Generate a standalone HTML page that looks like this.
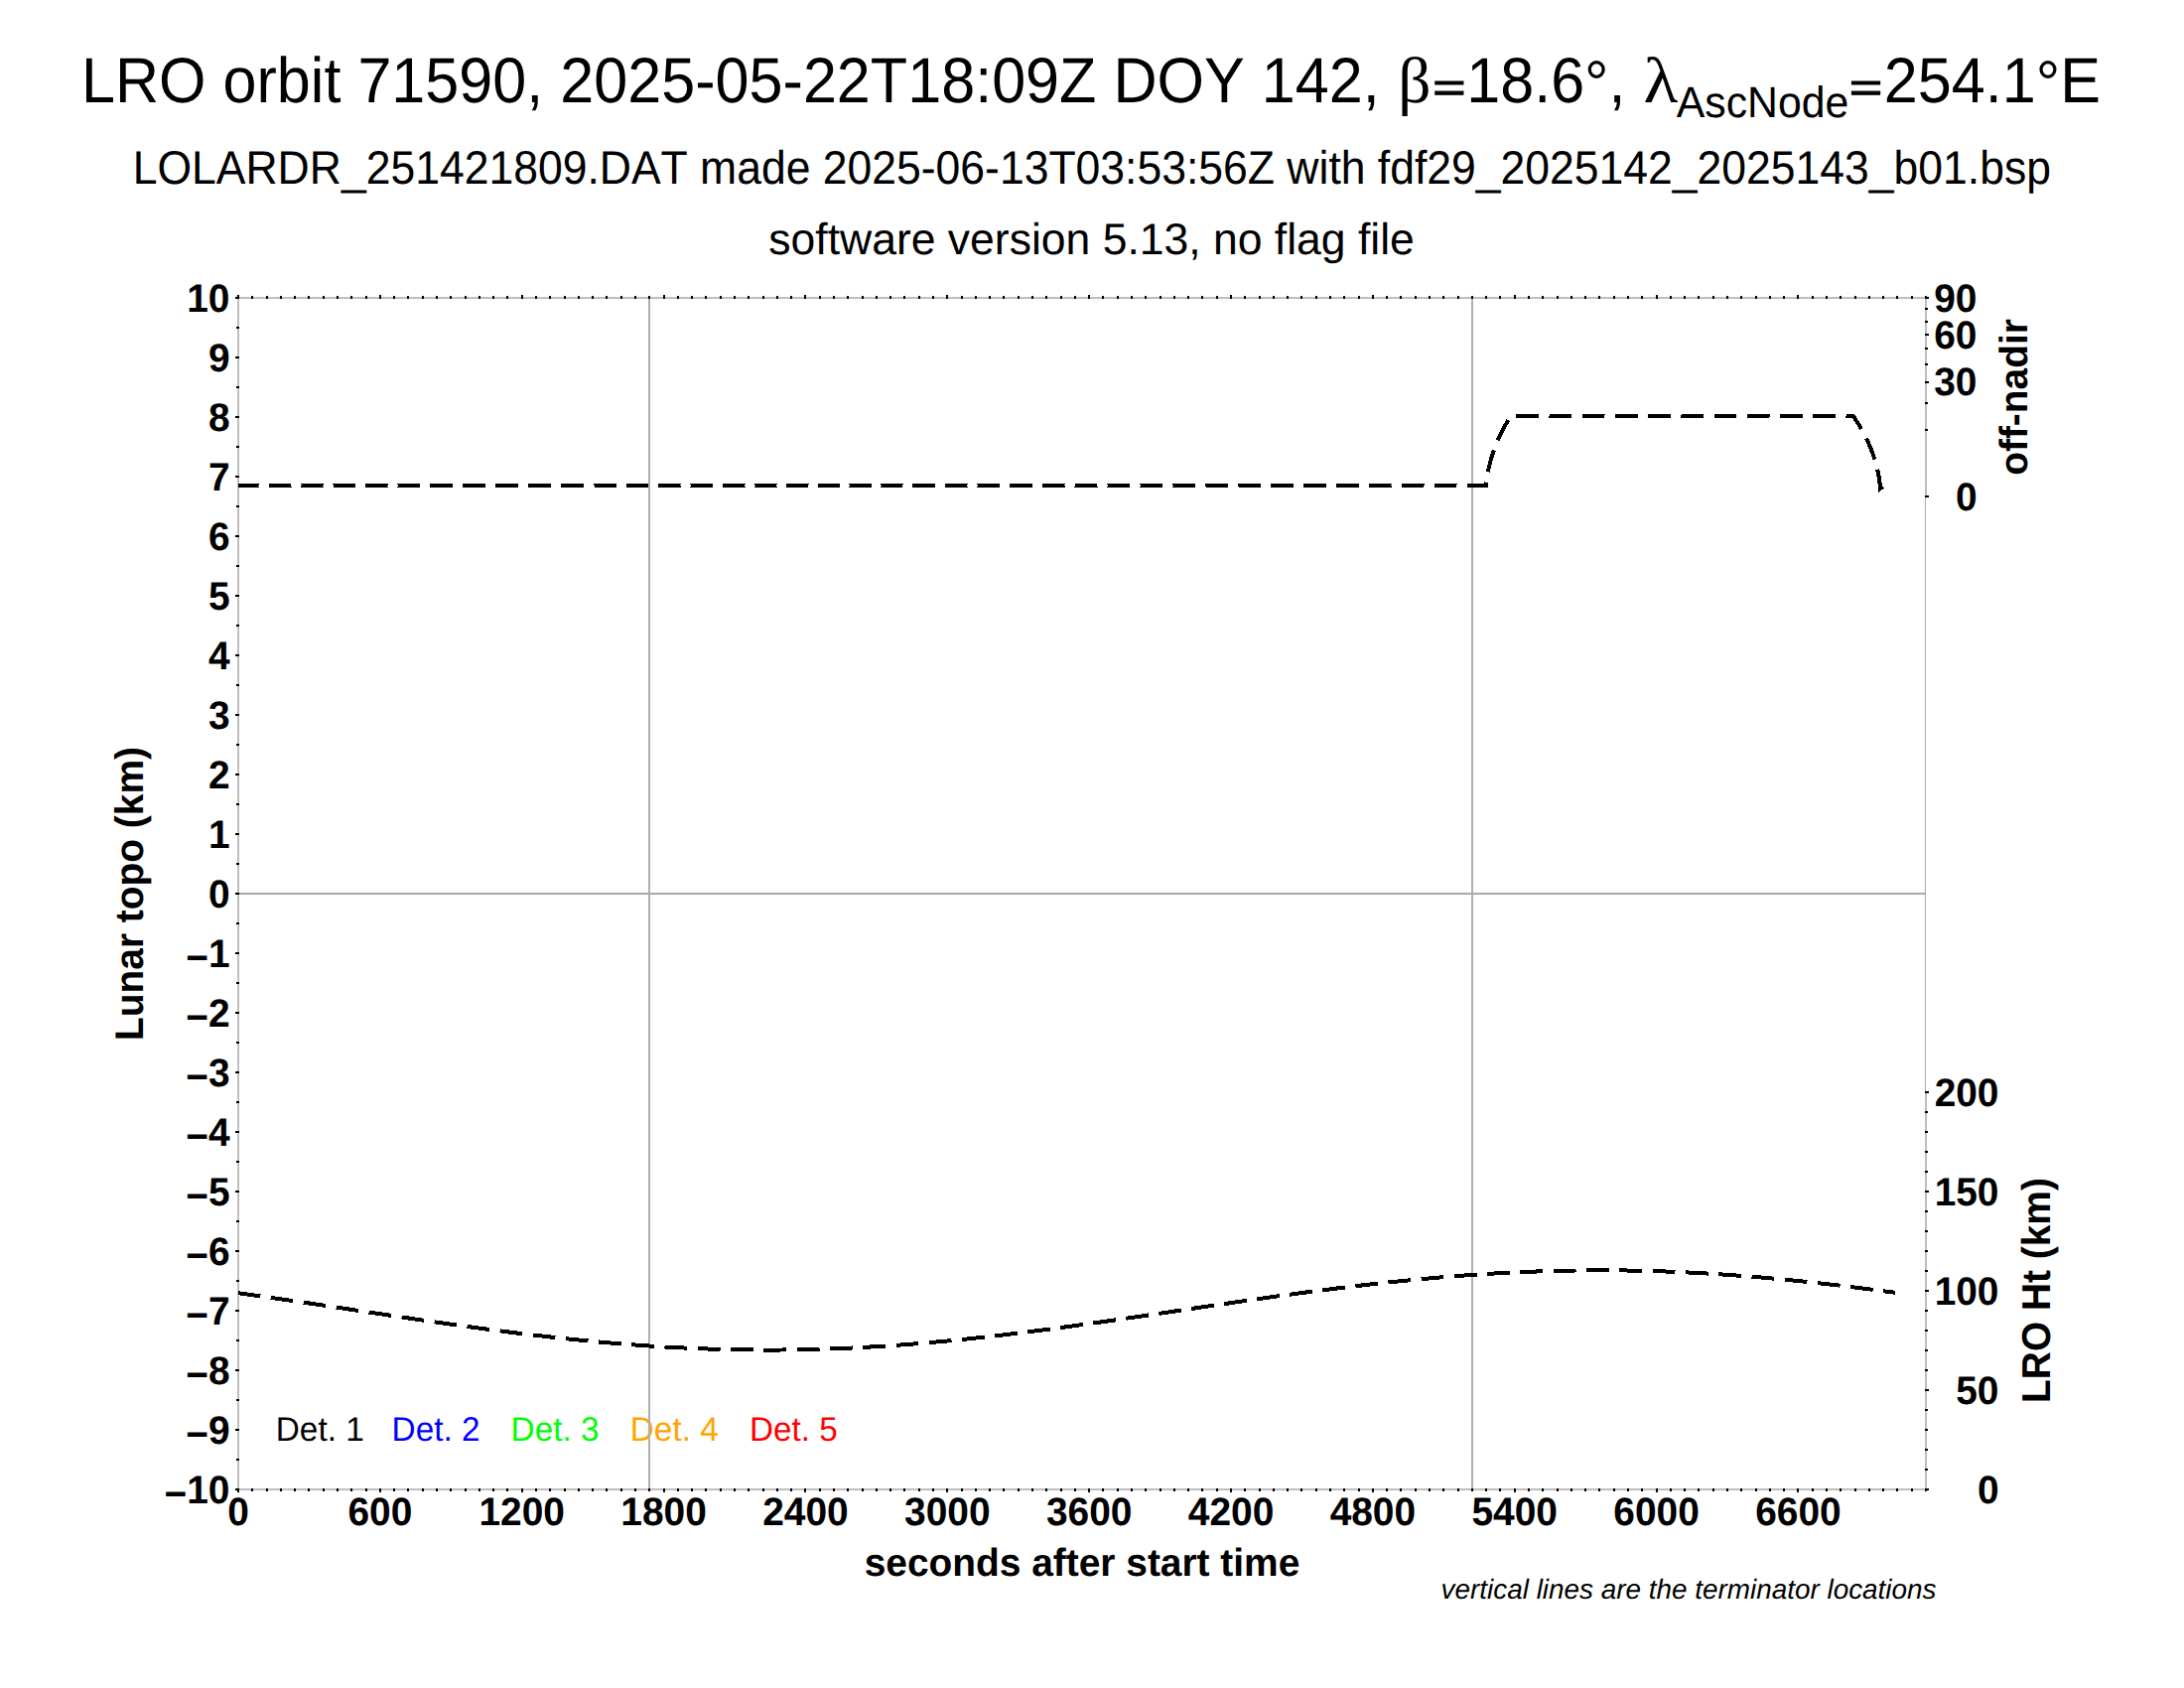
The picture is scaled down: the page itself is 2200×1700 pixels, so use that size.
<!DOCTYPE html>
<html lang="en"><head><meta charset="utf-8"><title>LRO orbit 71590</title>
<style>
html,body{margin:0;padding:0;background:#fff}
body{width:2200px;height:1700px;overflow:hidden}
svg{display:block}
text{font-family:"Liberation Sans",sans-serif;font-kerning:none;font-variant-ligatures:none;fill:#000;text-rendering:geometricPrecision}
.t1{font-size:61.11px}
.t2{font-size:44.51px}
.sub{font-size:42.78px}
.sym{font-family:"Liberation Serif",serif}
.an{font-size:38.89px;font-weight:bold}
.det{font-size:33.33px}
.note{font-size:27.89px;font-style:italic}
.g{shape-rendering:crispEdges}
</style></head><body>
<svg width="2200" height="1700" viewBox="0 0 2200 1700">
<rect width="2200" height="1700" fill="#fff"/>
<text class="t1" transform="translate(81.9 102.9) scale(1 1.055)">LRO orbit 71590, 2025-05-22T18:09Z DOY 142, </text>
<text class="sym" style="font-size:65.4px" transform="translate(1408.3 102.9)">β</text>
<text class="t1" transform="translate(1443.2 102.16) scale(0.93 0.667)" style="stroke:#000;stroke-width:1.8px">=</text>
<text class="t1" transform="translate(1477.2 102.9) scale(1 1.055)">18.6</text>
<text class="t1" transform="translate(1596.12 106.0) scale(1 1.055)">°</text>
<text class="t1" transform="translate(1620.56 102.9) scale(1 1.055)">, </text>
<text class="sym" style="font-size:65.4px" transform="translate(1655.6 102.9) scale(1.1 1)">λ</text>
<text class="sub" transform="translate(1688.8 117.5) scale(1 1.03)">AscNode</text>
<text class="t1" transform="translate(1863.1 102.16) scale(0.93 0.667)" style="stroke:#000;stroke-width:1.8px">=</text>
<text class="t1" transform="translate(1897.79 102.9) scale(1 1.055)">254.1</text>
<text class="t1" transform="translate(2050.69 106.0) scale(1 1.055)">°</text>
<text class="t1" transform="translate(2075.13 102.9) scale(1 1.055)">E</text>
<text class="t2" transform="translate(1099.8 185.45) scale(1 1.063)" text-anchor="middle">LOLARDR_251421809.DAT made 2025-06-13T03:53:56Z with fdf29_2025142_2025143_b01.bsp</text>
<text class="t2" transform="translate(1099.6 256) scale(1 1.0)" text-anchor="middle">software version 5.13, no flag file</text>
<text class="det" transform="translate(277.8 1450.9) scale(1 1.03)" style="fill:#000000">Det. 1</text>
<text class="det" transform="translate(394.6 1450.9) scale(1 1.03)" style="fill:#0000ff">Det. 2</text>
<text class="det" transform="translate(514.6 1450.9) scale(1 1.03)" style="fill:#00ff00">Det. 3</text>
<text class="det" transform="translate(634.8 1450.9) scale(1 1.03)" style="fill:#ffa500">Det. 4</text>
<text class="det" transform="translate(754.9 1450.9) scale(1 1.03)" style="fill:#ff0000">Det. 5</text>
<g class="g">
<rect x="653" y="300" width="2" height="1200" fill="#afafaf"/>
<rect x="1482" y="300" width="2" height="1200" fill="#afafaf"/>
<rect x="240" y="899" width="1700" height="2" fill="#a9a9a9"/>
<rect x="239" y="299" width="2" height="1202" fill="#bebebe"/>
<rect x="239" y="299" width="1702" height="2" fill="#bebebe"/>
<rect x="239" y="1499" width="1702" height="2" fill="#bebebe"/>
<rect x="1939" y="299" width="2" height="202" fill="#bebebe"/>
<rect x="1939" y="1099" width="2" height="402" fill="#bebebe"/>
<rect x="1939" y="500" width="1.3" height="600" fill="#aaaaaa"/>
<rect x="237" y="1499.0" width="4" height="2"/>
<rect x="238" y="1469.0" width="3" height="2"/>
<rect x="237" y="1439.0" width="4" height="2"/>
<rect x="238" y="1409.0" width="3" height="2"/>
<rect x="237" y="1379.0" width="4" height="2"/>
<rect x="238" y="1349.0" width="3" height="2"/>
<rect x="237" y="1319.0" width="4" height="2"/>
<rect x="238" y="1289.0" width="3" height="2"/>
<rect x="237" y="1259.0" width="4" height="2"/>
<rect x="238" y="1229.0" width="3" height="2"/>
<rect x="237" y="1199.0" width="4" height="2"/>
<rect x="238" y="1169.0" width="3" height="2"/>
<rect x="237" y="1139.0" width="4" height="2"/>
<rect x="238" y="1109.0" width="3" height="2"/>
<rect x="237" y="1079.0" width="4" height="2"/>
<rect x="238" y="1049.0" width="3" height="2"/>
<rect x="237" y="1019.0" width="4" height="2"/>
<rect x="238" y="989.0" width="3" height="2"/>
<rect x="237" y="959.0" width="4" height="2"/>
<rect x="238" y="929.0" width="3" height="2"/>
<rect x="237" y="899.0" width="4" height="2"/>
<rect x="238" y="869.0" width="3" height="2"/>
<rect x="237" y="839.0" width="4" height="2"/>
<rect x="238" y="809.0" width="3" height="2"/>
<rect x="237" y="779.0" width="4" height="2"/>
<rect x="238" y="749.0" width="3" height="2"/>
<rect x="237" y="719.0" width="4" height="2"/>
<rect x="238" y="689.0" width="3" height="2"/>
<rect x="237" y="659.0" width="4" height="2"/>
<rect x="238" y="629.0" width="3" height="2"/>
<rect x="237" y="599.0" width="4" height="2"/>
<rect x="238" y="569.0" width="3" height="2"/>
<rect x="237" y="539.0" width="4" height="2"/>
<rect x="238" y="509.0" width="3" height="2"/>
<rect x="237" y="479.0" width="4" height="2"/>
<rect x="238" y="449.0" width="3" height="2"/>
<rect x="237" y="419.0" width="4" height="2"/>
<rect x="238" y="389.0" width="3" height="2"/>
<rect x="237" y="359.0" width="4" height="2"/>
<rect x="238" y="329.0" width="3" height="2"/>
<rect x="237" y="299.0" width="4" height="2"/>
<rect x="239.00" y="297" width="2" height="4"/>
<rect x="239.00" y="1499" width="2" height="4"/>
<rect x="253.00" y="298" width="2" height="3"/>
<rect x="253.00" y="1499" width="2" height="3"/>
<rect x="268.00" y="298" width="2" height="3"/>
<rect x="268.00" y="1499" width="2" height="3"/>
<rect x="282.00" y="298" width="2" height="3"/>
<rect x="282.00" y="1499" width="2" height="3"/>
<rect x="296.00" y="298" width="2" height="3"/>
<rect x="296.00" y="1499" width="2" height="3"/>
<rect x="310.00" y="298" width="2" height="3"/>
<rect x="310.00" y="1499" width="2" height="3"/>
<rect x="325.00" y="298" width="2" height="3"/>
<rect x="325.00" y="1499" width="2" height="3"/>
<rect x="339.00" y="298" width="2" height="3"/>
<rect x="339.00" y="1499" width="2" height="3"/>
<rect x="353.00" y="298" width="2" height="3"/>
<rect x="353.00" y="1499" width="2" height="3"/>
<rect x="368.00" y="298" width="2" height="3"/>
<rect x="368.00" y="1499" width="2" height="3"/>
<rect x="382.00" y="297" width="2" height="4"/>
<rect x="382.00" y="1499" width="2" height="4"/>
<rect x="396.00" y="298" width="2" height="3"/>
<rect x="396.00" y="1499" width="2" height="3"/>
<rect x="410.00" y="298" width="2" height="3"/>
<rect x="410.00" y="1499" width="2" height="3"/>
<rect x="425.00" y="298" width="2" height="3"/>
<rect x="425.00" y="1499" width="2" height="3"/>
<rect x="439.00" y="298" width="2" height="3"/>
<rect x="439.00" y="1499" width="2" height="3"/>
<rect x="453.00" y="298" width="2" height="3"/>
<rect x="453.00" y="1499" width="2" height="3"/>
<rect x="468.00" y="298" width="2" height="3"/>
<rect x="468.00" y="1499" width="2" height="3"/>
<rect x="482.00" y="298" width="2" height="3"/>
<rect x="482.00" y="1499" width="2" height="3"/>
<rect x="496.00" y="298" width="2" height="3"/>
<rect x="496.00" y="1499" width="2" height="3"/>
<rect x="510.00" y="298" width="2" height="3"/>
<rect x="510.00" y="1499" width="2" height="3"/>
<rect x="525.00" y="297" width="2" height="4"/>
<rect x="525.00" y="1499" width="2" height="4"/>
<rect x="539.00" y="298" width="2" height="3"/>
<rect x="539.00" y="1499" width="2" height="3"/>
<rect x="553.00" y="298" width="2" height="3"/>
<rect x="553.00" y="1499" width="2" height="3"/>
<rect x="568.00" y="298" width="2" height="3"/>
<rect x="568.00" y="1499" width="2" height="3"/>
<rect x="582.00" y="298" width="2" height="3"/>
<rect x="582.00" y="1499" width="2" height="3"/>
<rect x="596.00" y="298" width="2" height="3"/>
<rect x="596.00" y="1499" width="2" height="3"/>
<rect x="610.00" y="298" width="2" height="3"/>
<rect x="610.00" y="1499" width="2" height="3"/>
<rect x="625.00" y="298" width="2" height="3"/>
<rect x="625.00" y="1499" width="2" height="3"/>
<rect x="639.00" y="298" width="2" height="3"/>
<rect x="639.00" y="1499" width="2" height="3"/>
<rect x="653.00" y="298" width="2" height="3"/>
<rect x="653.00" y="1499" width="2" height="3"/>
<rect x="668.00" y="297" width="2" height="4"/>
<rect x="668.00" y="1499" width="2" height="4"/>
<rect x="682.00" y="298" width="2" height="3"/>
<rect x="682.00" y="1499" width="2" height="3"/>
<rect x="696.00" y="298" width="2" height="3"/>
<rect x="696.00" y="1499" width="2" height="3"/>
<rect x="710.00" y="298" width="2" height="3"/>
<rect x="710.00" y="1499" width="2" height="3"/>
<rect x="725.00" y="298" width="2" height="3"/>
<rect x="725.00" y="1499" width="2" height="3"/>
<rect x="739.00" y="298" width="2" height="3"/>
<rect x="739.00" y="1499" width="2" height="3"/>
<rect x="753.00" y="298" width="2" height="3"/>
<rect x="753.00" y="1499" width="2" height="3"/>
<rect x="768.00" y="298" width="2" height="3"/>
<rect x="768.00" y="1499" width="2" height="3"/>
<rect x="782.00" y="298" width="2" height="3"/>
<rect x="782.00" y="1499" width="2" height="3"/>
<rect x="796.00" y="298" width="2" height="3"/>
<rect x="796.00" y="1499" width="2" height="3"/>
<rect x="810.00" y="297" width="2" height="4"/>
<rect x="810.00" y="1499" width="2" height="4"/>
<rect x="825.00" y="298" width="2" height="3"/>
<rect x="825.00" y="1499" width="2" height="3"/>
<rect x="839.00" y="298" width="2" height="3"/>
<rect x="839.00" y="1499" width="2" height="3"/>
<rect x="853.00" y="298" width="2" height="3"/>
<rect x="853.00" y="1499" width="2" height="3"/>
<rect x="868.00" y="298" width="2" height="3"/>
<rect x="868.00" y="1499" width="2" height="3"/>
<rect x="882.00" y="298" width="2" height="3"/>
<rect x="882.00" y="1499" width="2" height="3"/>
<rect x="896.00" y="298" width="2" height="3"/>
<rect x="896.00" y="1499" width="2" height="3"/>
<rect x="910.00" y="298" width="2" height="3"/>
<rect x="910.00" y="1499" width="2" height="3"/>
<rect x="925.00" y="298" width="2" height="3"/>
<rect x="925.00" y="1499" width="2" height="3"/>
<rect x="939.00" y="298" width="2" height="3"/>
<rect x="939.00" y="1499" width="2" height="3"/>
<rect x="953.00" y="297" width="2" height="4"/>
<rect x="953.00" y="1499" width="2" height="4"/>
<rect x="968.00" y="298" width="2" height="3"/>
<rect x="968.00" y="1499" width="2" height="3"/>
<rect x="982.00" y="298" width="2" height="3"/>
<rect x="982.00" y="1499" width="2" height="3"/>
<rect x="996.00" y="298" width="2" height="3"/>
<rect x="996.00" y="1499" width="2" height="3"/>
<rect x="1010.00" y="298" width="2" height="3"/>
<rect x="1010.00" y="1499" width="2" height="3"/>
<rect x="1025.00" y="298" width="2" height="3"/>
<rect x="1025.00" y="1499" width="2" height="3"/>
<rect x="1039.00" y="298" width="2" height="3"/>
<rect x="1039.00" y="1499" width="2" height="3"/>
<rect x="1053.00" y="298" width="2" height="3"/>
<rect x="1053.00" y="1499" width="2" height="3"/>
<rect x="1068.00" y="298" width="2" height="3"/>
<rect x="1068.00" y="1499" width="2" height="3"/>
<rect x="1082.00" y="298" width="2" height="3"/>
<rect x="1082.00" y="1499" width="2" height="3"/>
<rect x="1096.00" y="297" width="2" height="4"/>
<rect x="1096.00" y="1499" width="2" height="4"/>
<rect x="1110.00" y="298" width="2" height="3"/>
<rect x="1110.00" y="1499" width="2" height="3"/>
<rect x="1125.00" y="298" width="2" height="3"/>
<rect x="1125.00" y="1499" width="2" height="3"/>
<rect x="1139.00" y="298" width="2" height="3"/>
<rect x="1139.00" y="1499" width="2" height="3"/>
<rect x="1153.00" y="298" width="2" height="3"/>
<rect x="1153.00" y="1499" width="2" height="3"/>
<rect x="1168.00" y="298" width="2" height="3"/>
<rect x="1168.00" y="1499" width="2" height="3"/>
<rect x="1182.00" y="298" width="2" height="3"/>
<rect x="1182.00" y="1499" width="2" height="3"/>
<rect x="1196.00" y="298" width="2" height="3"/>
<rect x="1196.00" y="1499" width="2" height="3"/>
<rect x="1210.00" y="298" width="2" height="3"/>
<rect x="1210.00" y="1499" width="2" height="3"/>
<rect x="1225.00" y="298" width="2" height="3"/>
<rect x="1225.00" y="1499" width="2" height="3"/>
<rect x="1239.00" y="297" width="2" height="4"/>
<rect x="1239.00" y="1499" width="2" height="4"/>
<rect x="1253.00" y="298" width="2" height="3"/>
<rect x="1253.00" y="1499" width="2" height="3"/>
<rect x="1268.00" y="298" width="2" height="3"/>
<rect x="1268.00" y="1499" width="2" height="3"/>
<rect x="1282.00" y="298" width="2" height="3"/>
<rect x="1282.00" y="1499" width="2" height="3"/>
<rect x="1296.00" y="298" width="2" height="3"/>
<rect x="1296.00" y="1499" width="2" height="3"/>
<rect x="1310.00" y="298" width="2" height="3"/>
<rect x="1310.00" y="1499" width="2" height="3"/>
<rect x="1325.00" y="298" width="2" height="3"/>
<rect x="1325.00" y="1499" width="2" height="3"/>
<rect x="1339.00" y="298" width="2" height="3"/>
<rect x="1339.00" y="1499" width="2" height="3"/>
<rect x="1353.00" y="298" width="2" height="3"/>
<rect x="1353.00" y="1499" width="2" height="3"/>
<rect x="1368.00" y="298" width="2" height="3"/>
<rect x="1368.00" y="1499" width="2" height="3"/>
<rect x="1382.00" y="297" width="2" height="4"/>
<rect x="1382.00" y="1499" width="2" height="4"/>
<rect x="1396.00" y="298" width="2" height="3"/>
<rect x="1396.00" y="1499" width="2" height="3"/>
<rect x="1410.00" y="298" width="2" height="3"/>
<rect x="1410.00" y="1499" width="2" height="3"/>
<rect x="1425.00" y="298" width="2" height="3"/>
<rect x="1425.00" y="1499" width="2" height="3"/>
<rect x="1439.00" y="298" width="2" height="3"/>
<rect x="1439.00" y="1499" width="2" height="3"/>
<rect x="1453.00" y="298" width="2" height="3"/>
<rect x="1453.00" y="1499" width="2" height="3"/>
<rect x="1468.00" y="298" width="2" height="3"/>
<rect x="1468.00" y="1499" width="2" height="3"/>
<rect x="1482.00" y="298" width="2" height="3"/>
<rect x="1482.00" y="1499" width="2" height="3"/>
<rect x="1496.00" y="298" width="2" height="3"/>
<rect x="1496.00" y="1499" width="2" height="3"/>
<rect x="1510.00" y="298" width="2" height="3"/>
<rect x="1510.00" y="1499" width="2" height="3"/>
<rect x="1525.00" y="297" width="2" height="4"/>
<rect x="1525.00" y="1499" width="2" height="4"/>
<rect x="1539.00" y="298" width="2" height="3"/>
<rect x="1539.00" y="1499" width="2" height="3"/>
<rect x="1553.00" y="298" width="2" height="3"/>
<rect x="1553.00" y="1499" width="2" height="3"/>
<rect x="1568.00" y="298" width="2" height="3"/>
<rect x="1568.00" y="1499" width="2" height="3"/>
<rect x="1582.00" y="298" width="2" height="3"/>
<rect x="1582.00" y="1499" width="2" height="3"/>
<rect x="1596.00" y="298" width="2" height="3"/>
<rect x="1596.00" y="1499" width="2" height="3"/>
<rect x="1610.00" y="298" width="2" height="3"/>
<rect x="1610.00" y="1499" width="2" height="3"/>
<rect x="1625.00" y="298" width="2" height="3"/>
<rect x="1625.00" y="1499" width="2" height="3"/>
<rect x="1639.00" y="298" width="2" height="3"/>
<rect x="1639.00" y="1499" width="2" height="3"/>
<rect x="1653.00" y="298" width="2" height="3"/>
<rect x="1653.00" y="1499" width="2" height="3"/>
<rect x="1668.00" y="297" width="2" height="4"/>
<rect x="1668.00" y="1499" width="2" height="4"/>
<rect x="1682.00" y="298" width="2" height="3"/>
<rect x="1682.00" y="1499" width="2" height="3"/>
<rect x="1696.00" y="298" width="2" height="3"/>
<rect x="1696.00" y="1499" width="2" height="3"/>
<rect x="1710.00" y="298" width="2" height="3"/>
<rect x="1710.00" y="1499" width="2" height="3"/>
<rect x="1725.00" y="298" width="2" height="3"/>
<rect x="1725.00" y="1499" width="2" height="3"/>
<rect x="1739.00" y="298" width="2" height="3"/>
<rect x="1739.00" y="1499" width="2" height="3"/>
<rect x="1753.00" y="298" width="2" height="3"/>
<rect x="1753.00" y="1499" width="2" height="3"/>
<rect x="1768.00" y="298" width="2" height="3"/>
<rect x="1768.00" y="1499" width="2" height="3"/>
<rect x="1782.00" y="298" width="2" height="3"/>
<rect x="1782.00" y="1499" width="2" height="3"/>
<rect x="1796.00" y="298" width="2" height="3"/>
<rect x="1796.00" y="1499" width="2" height="3"/>
<rect x="1810.00" y="297" width="2" height="4"/>
<rect x="1810.00" y="1499" width="2" height="4"/>
<rect x="1825.00" y="298" width="2" height="3"/>
<rect x="1825.00" y="1499" width="2" height="3"/>
<rect x="1839.00" y="298" width="2" height="3"/>
<rect x="1839.00" y="1499" width="2" height="3"/>
<rect x="1853.00" y="298" width="2" height="3"/>
<rect x="1853.00" y="1499" width="2" height="3"/>
<rect x="1868.00" y="298" width="2" height="3"/>
<rect x="1868.00" y="1499" width="2" height="3"/>
<rect x="1882.00" y="298" width="2" height="3"/>
<rect x="1882.00" y="1499" width="2" height="3"/>
<rect x="1896.00" y="298" width="2" height="3"/>
<rect x="1896.00" y="1499" width="2" height="3"/>
<rect x="1910.00" y="298" width="2" height="3"/>
<rect x="1910.00" y="1499" width="2" height="3"/>
<rect x="1925.00" y="298" width="2" height="3"/>
<rect x="1925.00" y="1499" width="2" height="3"/>
<rect x="1939.00" y="298" width="2" height="3"/>
<rect x="1939.00" y="1499" width="2" height="3"/>
<rect x="1939" y="499.00" width="4" height="2"/>
<rect x="1939" y="432.00" width="3" height="2"/>
<rect x="1939" y="405.00" width="3" height="2"/>
<rect x="1939" y="384.00" width="4" height="2"/>
<rect x="1939" y="366.00" width="3" height="2"/>
<rect x="1939" y="350.00" width="3" height="2"/>
<rect x="1939" y="336.00" width="4" height="2"/>
<rect x="1939" y="323.00" width="3" height="2"/>
<rect x="1939" y="310.00" width="3" height="2"/>
<rect x="1939" y="299.00" width="4" height="2"/>
<rect x="1939" y="1499.00" width="4" height="2"/>
<rect x="1939" y="1479.00" width="3" height="2"/>
<rect x="1939" y="1459.00" width="3" height="2"/>
<rect x="1939" y="1439.00" width="3" height="2"/>
<rect x="1939" y="1419.00" width="3" height="2"/>
<rect x="1939" y="1399.00" width="4" height="2"/>
<rect x="1939" y="1379.00" width="3" height="2"/>
<rect x="1939" y="1359.00" width="3" height="2"/>
<rect x="1939" y="1339.00" width="3" height="2"/>
<rect x="1939" y="1319.00" width="3" height="2"/>
<rect x="1939" y="1299.00" width="4" height="2"/>
<rect x="1939" y="1279.00" width="3" height="2"/>
<rect x="1939" y="1259.00" width="3" height="2"/>
<rect x="1939" y="1239.00" width="3" height="2"/>
<rect x="1939" y="1219.00" width="3" height="2"/>
<rect x="1939" y="1199.00" width="4" height="2"/>
<rect x="1939" y="1179.00" width="3" height="2"/>
<rect x="1939" y="1159.00" width="3" height="2"/>
<rect x="1939" y="1139.00" width="3" height="2"/>
<rect x="1939" y="1119.00" width="3" height="2"/>
<rect x="1939" y="1099.00" width="4" height="2"/>
</g>
<path class="g" d="M240.00 489.03 L240.50 488.97 L240.99 489.03 L241.49 488.97 L241.99 489.03 L242.48 488.97 L242.98 489.03 L243.48 488.97 L243.97 489.03 L244.47 488.97 L244.97 489.03 L245.47 488.97 L245.96 489.03 L246.46 488.97 L246.96 489.03 L247.45 488.97 L247.95 489.03 L248.45 488.97 L248.94 489.03 L249.44 488.97 L249.94 489.03 L250.43 488.97 L250.93 489.03 L251.43 488.97 L251.92 489.03 L252.42 488.97 L252.92 489.03 L253.41 488.97 L253.91 489.03 L254.41 488.97 L254.90 489.03 L255.40 488.97 L255.90 489.03 L256.40 488.97 L256.89 489.03 L257.39 488.97 L257.89 489.03 L258.38 488.97 L258.88 489.03 L259.38 488.97 L259.87 489.03 L260.37 488.97 L260.87 489.03 L261.36 488.97 L261.86 489.03 L262.36 488.97 L262.85 489.03 L263.35 488.97 L263.85 489.03 L264.34 488.97 L264.84 489.03 L265.34 488.97 L265.83 489.03 L266.33 488.97 L266.83 489.03 L267.33 488.97 L267.82 489.03 L268.32 488.97 L268.82 489.03 L269.31 488.97 L269.81 489.03 L270.31 488.97 L270.80 489.03 L271.30 488.94 L271.80 489.06 L272.30 488.94 L272.80 489.06 L273.30 488.94 L273.80 489.06 L274.30 488.94 L274.80 489.06 L275.30 488.94 L275.80 489.06 L276.30 488.94 L276.80 489.06 L277.30 488.94 L277.80 489.06 L278.30 488.94 L278.80 489.06 L279.30 488.94 L279.79 489.06 L280.29 488.94 L280.79 489.06 L281.29 488.94 L281.79 489.06 L282.29 488.94 L282.79 489.06 L283.29 488.94 L283.79 489.06 L284.29 488.94 L284.79 489.06 L285.29 488.94 L285.79 489.06 L286.29 488.94 L286.79 489.06 L287.29 488.94 L287.79 489.06 L288.29 488.94 L288.79 489.06 L289.29 488.94 L289.79 489.06 L290.29 488.94 L290.79 489.06 L291.29 488.94 L291.79 489.06 L292.29 488.94 L292.79 489.06 L293.29 488.94 L293.79 489.06 L294.29 488.94 L294.79 489.06 L295.29 488.94 L295.78 489.06 L296.28 488.94 L296.78 489.06 L297.28 488.94 L297.78 489.06 L298.28 488.94 L298.78 489.06 L299.28 488.94 L299.78 489.06 L300.28 488.94 L300.78 489.06 L301.28 488.94 L301.78 489.06 L302.28 488.94 L302.78 489.06 L303.28 488.94 L303.78 489.06 L304.28 488.94 L304.78 489.06 L305.28 488.94 L305.78 489.06 L306.28 488.94 L306.78 489.06 L307.28 488.94 L307.78 489.06 L308.28 488.94 L308.78 489.06 L309.28 488.94 L309.78 489.06 L310.28 488.94 L310.78 489.06 L311.28 488.94 L311.77 489.06 L312.27 488.94 L312.77 489.06 L313.27 488.94 L313.77 489.06 L314.27 488.94 L314.77 489.06 L315.27 488.94 L315.77 489.06 L316.27 488.94 L316.77 489.06 L317.27 488.94 L317.77 489.06 L318.27 488.94 L318.77 489.06 L319.27 488.94 L319.77 489.06 L320.27 488.94 L320.77 489.06 L321.27 488.94 L321.77 489.06 L322.27 488.94 L322.77 489.06 L323.27 488.94 L323.77 489.06 L324.27 488.94 L324.77 489.06 L325.27 488.94 L325.77 489.06 L326.27 488.94 L326.77 489.06 L327.27 488.94 L327.77 489.06 L328.26 488.94 L328.76 489.06 L329.26 488.94 L329.76 489.06 L330.26 488.94 L330.76 489.06 L331.26 488.94 L331.76 489.06 L332.26 488.94 L332.76 489.06 L333.26 488.94 L333.76 489.06 L334.26 488.94 L334.76 489.06 L335.26 488.94 L335.76 489.06 L336.26 488.94 L336.76 489.06 L337.26 488.94 L337.76 489.06 L338.26 488.94 L338.76 489.06 L339.26 488.94 L339.76 489.06 L340.26 488.94 L340.76 489.06 L341.26 488.94 L341.76 489.06 L342.26 488.94 L342.76 489.06 L343.26 488.94 L343.76 489.06 L344.25 488.94 L344.75 489.06 L345.25 488.94 L345.75 489.06 L346.25 488.94 L346.75 489.06 L347.25 488.94 L347.75 489.06 L348.25 488.94 L348.75 489.06 L349.25 488.94 L349.75 489.06 L350.25 488.94 L350.75 489.06 L351.25 488.94 L351.75 489.06 L352.25 488.94 L352.75 489.06 L353.25 488.94 L353.75 489.06 L354.25 488.94 L354.75 489.06 L355.25 488.94 L355.75 489.06 L356.25 488.94 L356.75 489.06 L357.25 488.94 L357.75 489.06 L358.25 488.94 L358.75 489.06 L359.25 488.94 L359.75 489.06 L360.25 488.94 L360.74 489.06 L361.24 488.94 L361.74 489.06 L362.24 488.94 L362.74 489.06 L363.24 488.94 L363.74 489.06 L364.24 488.94 L364.74 489.06 L365.24 488.94 L365.74 489.06 L366.24 488.94 L366.74 489.06 L367.24 488.94 L367.74 489.06 L368.24 488.94 L368.74 489.06 L369.24 488.94 L369.74 489.06 L370.24 488.94 L370.74 489.06 L371.24 488.94 L371.74 489.06 L372.24 488.94 L372.74 489.06 L373.24 488.94 L373.74 489.06 L374.24 488.94 L374.74 489.06 L375.24 488.94 L375.74 489.06 L376.24 488.94 L376.73 489.06 L377.23 488.94 L377.73 489.06 L378.23 488.94 L378.73 489.06 L379.23 488.94 L379.73 489.06 L380.23 488.94 L380.73 489.06 L381.23 488.94 L381.73 489.06 L382.23 488.94 L382.73 489.06 L383.23 488.94 L383.73 489.06 L384.23 488.94 L384.73 489.06 L385.23 488.94 L385.73 489.06 L386.23 488.94 L386.73 489.06 L387.23 488.94 L387.73 489.06 L388.23 488.94 L388.73 489.06 L389.23 488.94 L389.73 489.06 L390.23 488.94 L390.73 489.06 L391.23 488.94 L391.73 489.06 L392.23 488.94 L392.73 489.06 L393.22 488.94 L393.72 489.06 L394.22 488.94 L394.72 489.06 L395.22 488.94 L395.72 489.06 L396.22 488.94 L396.72 489.06 L397.22 488.94 L397.72 489.06 L398.22 488.94 L398.72 489.06 L399.22 488.94 L399.72 489.06 L400.22 488.94 L400.72 489.06 L401.22 488.94 L401.72 489.06 L402.22 488.94 L402.72 489.06 L403.22 488.94 L403.72 489.06 L404.22 488.94 L404.72 489.06 L405.22 488.94 L405.72 489.06 L406.22 488.94 L406.72 489.06 L407.22 488.94 L407.72 489.06 L408.22 488.94 L408.72 489.06 L409.21 488.94 L409.71 489.06 L410.21 488.94 L410.71 489.06 L411.21 488.94 L411.71 489.06 L412.21 488.94 L412.71 489.06 L413.21 488.94 L413.71 489.06 L414.21 488.94 L414.71 489.06 L415.21 488.94 L415.71 489.06 L416.21 488.94 L416.71 489.06 L417.21 488.94 L417.71 489.06 L418.21 488.94 L418.71 489.06 L419.21 488.94 L419.71 489.06 L420.21 488.94 L420.71 489.06 L421.21 488.94 L421.71 489.06 L422.21 488.94 L422.71 489.06 L423.21 488.94 L423.71 489.06 L424.21 488.94 L424.71 489.06 L425.20 488.94 L425.70 489.06 L426.20 488.94 L426.70 489.06 L427.20 488.94 L427.70 489.06 L428.20 488.94 L428.70 489.06 L429.20 488.94 L429.70 489.06 L430.20 488.94 L430.70 489.06 L431.20 488.94 L431.70 489.06 L432.20 488.94 L432.70 489.06 L433.20 488.97 L433.70 489.03 L434.20 488.97 L434.70 489.03 L435.20 488.97 L435.70 489.03 L436.20 488.97 L436.70 489.03 L437.20 488.97 L437.69 489.03 L438.19 488.97 L438.69 489.03 L439.19 488.97 L439.69 489.03 L440.19 488.97 L440.69 489.03 L441.19 488.97 L441.69 489.03 L442.19 488.97 L442.69 489.03 L443.19 488.97 L443.69 489.03 L444.19 488.97 L444.69 489.03 L445.19 488.97 L445.68 489.03 L446.18 488.97 L446.68 489.03 L447.18 488.97 L447.68 489.03 L448.18 488.97 L448.68 489.03 L449.18 488.97 L449.68 489.03 L450.18 488.97 L450.68 489.03 L451.18 488.97 L451.68 489.03 L452.18 488.97 L452.68 489.03 L453.18 488.97 L453.68 489.03 L454.17 488.97 L454.67 489.03 L455.17 488.97 L455.67 489.03 L456.17 488.97 L456.67 489.03 L457.17 488.97 L457.67 489.03 L458.17 488.97 L458.67 489.03 L459.17 488.97 L459.67 489.03 L460.17 488.97 L460.67 489.03 L461.17 488.97 L461.67 489.03 L462.17 488.97 L462.66 489.03 L463.16 488.97 L463.66 489.03 L464.16 488.97 L464.66 489.03 L465.16 488.97 L465.66 489.03 L466.16 488.97 L466.66 489.03 L467.16 488.97 L467.66 489.03 L468.16 488.97 L468.66 489.03 L469.16 488.97 L469.66 489.03 L470.16 488.97 L470.65 489.03 L471.15 488.97 L471.65 489.03 L472.15 488.97 L472.65 489.03 L473.15 488.97 L473.65 489.03 L474.15 488.97 L474.65 489.03 L475.15 488.97 L475.65 489.03 L476.15 488.97 L476.65 489.03 L477.15 488.97 L477.65 489.03 L478.15 488.97 L478.65 489.03 L479.14 488.97 L479.64 489.03 L480.14 488.97 L480.64 489.03 L481.14 488.97 L481.64 489.03 L482.14 488.97 L482.64 489.03 L483.14 488.97 L483.64 489.03 L484.14 488.97 L484.64 489.03 L485.14 488.97 L485.64 489.03 L486.14 488.97 L486.64 489.03 L487.13 488.97 L487.63 489.03 L488.13 488.97 L488.63 489.03 L489.13 488.97 L489.63 489.03 L490.13 488.97 L490.63 489.03 L491.13 488.97 L491.63 489.03 L492.13 488.97 L492.63 489.03 L493.13 488.97 L493.63 489.03 L494.13 488.97 L494.63 489.03 L495.13 488.97 L495.62 489.03 L496.12 488.97 L496.62 489.03 L497.12 488.97 L497.62 489.03 L498.12 488.97 L498.62 489.03 L499.12 488.97 L499.62 489.03 L500.12 488.97 L500.62 489.03 L501.12 488.97 L501.62 489.03 L502.12 488.97 L502.62 489.03 L503.12 488.97 L503.62 489.03 L504.11 488.97 L504.61 489.03 L505.11 488.97 L505.61 489.03 L506.11 488.97 L506.61 489.03 L507.11 488.97 L507.61 489.03 L508.11 488.97 L508.61 489.03 L509.11 488.97 L509.61 489.03 L510.11 488.97 L510.61 489.03 L511.11 488.97 L511.61 489.03 L512.10 488.97 L512.60 489.03 L513.10 488.97 L513.60 489.03 L514.10 488.97 L514.60 489.03 L515.10 488.97 L515.60 489.03 L516.10 488.97 L516.60 489.03 L517.10 488.97 L517.60 489.03 L518.10 488.97 L518.60 489.03 L519.10 488.97 L519.60 489.03 L520.10 488.97 L520.59 489.03 L521.09 488.97 L521.59 489.03 L522.09 488.97 L522.59 489.03 L523.09 488.97 L523.59 489.03 L524.09 488.97 L524.59 489.03 L525.09 488.97 L525.59 489.03 L526.09 488.97 L526.59 489.03 L527.09 488.97 L527.59 489.03 L528.09 488.97 L528.58 489.03 L529.08 488.97 L529.58 489.03 L530.08 488.97 L530.58 489.03 L531.08 488.97 L531.58 489.03 L532.08 488.97 L532.58 489.03 L533.08 488.97 L533.58 489.03 L534.08 488.97 L534.58 489.03 L535.08 488.97 L535.58 489.03 L536.08 488.97 L536.58 489.03 L537.07 488.97 L537.57 489.03 L538.07 488.97 L538.57 489.03 L539.07 488.97 L539.57 489.03 L540.07 488.97 L540.57 489.03 L541.07 488.97 L541.57 489.03 L542.07 488.97 L542.57 489.03 L543.07 488.97 L543.57 489.03 L544.07 488.97 L544.57 489.03 L545.07 488.97 L545.56 489.03 L546.06 488.97 L546.56 489.03 L547.06 488.97 L547.56 489.03 L548.06 488.97 L548.56 489.03 L549.06 488.97 L549.56 489.03 L550.06 488.97 L550.56 489.03 L551.06 488.97 L551.56 489.03 L552.06 488.97 L552.56 489.03 L553.06 488.97 L553.55 489.03 L554.05 488.97 L554.55 489.03 L555.05 488.97 L555.55 489.03 L556.05 488.97 L556.55 489.03 L557.05 488.97 L557.55 489.03 L558.05 488.97 L558.55 489.03 L559.05 488.97 L559.55 489.03 L560.05 488.97 L560.55 489.03 L561.05 488.97 L561.55 489.03 L562.04 488.97 L562.54 489.03 L563.04 488.97 L563.54 489.03 L564.04 488.97 L564.54 489.03 L565.04 488.97 L565.54 489.03 L566.04 488.97 L566.54 489.03 L567.04 488.97 L567.54 489.03 L568.04 488.97 L568.54 489.03 L569.04 488.97 L569.54 489.03 L570.03 488.97 L570.53 489.03 L571.03 488.97 L571.53 489.03 L572.03 488.97 L572.53 489.03 L573.03 488.97 L573.53 489.03 L574.03 488.97 L574.53 489.03 L575.03 488.97 L575.53 489.03 L576.03 488.97 L576.53 489.03 L577.03 488.97 L577.53 489.03 L578.03 488.97 L578.52 489.03 L579.02 488.97 L579.52 489.03 L580.02 488.97 L580.52 489.03 L581.02 488.97 L581.52 489.03 L582.02 488.97 L582.52 489.03 L583.02 488.97 L583.52 489.03 L584.02 488.97 L584.52 489.03 L585.02 488.97 L585.52 489.03 L586.02 488.97 L586.52 489.03 L587.01 488.97 L587.51 489.03 L588.01 488.97 L588.51 489.03 L589.01 488.97 L589.51 489.03 L590.01 488.97 L590.51 489.03 L591.01 488.97 L591.51 489.03 L592.01 488.97 L592.51 489.03 L593.01 488.97 L593.51 489.03 L594.01 488.97 L594.51 489.03 L595.00 488.97 L595.50 489.03 L596.00 488.97 L596.50 489.03 L597.00 488.97 L597.50 489.03 L598.00 488.97 L598.50 489.03 L599.00 488.94 L599.50 489.06 L600.00 488.94 L600.50 489.06 L601.00 488.94 L601.50 489.06 L602.00 488.94 L602.50 489.06 L603.00 488.94 L603.49 489.06 L603.99 488.94 L604.49 489.06 L604.99 488.94 L605.49 489.06 L605.99 488.94 L606.49 489.06 L606.99 488.94 L607.49 489.06 L607.99 488.94 L608.49 489.06 L608.99 488.94 L609.49 489.06 L609.99 488.94 L610.49 489.06 L610.99 488.94 L611.48 489.06 L611.98 488.94 L612.48 489.06 L612.98 488.94 L613.48 489.06 L613.98 488.94 L614.48 489.06 L614.98 488.94 L615.48 489.06 L615.98 488.94 L616.48 489.06 L616.98 488.94 L617.48 489.06 L617.98 488.94 L618.48 489.06 L618.98 488.94 L619.47 489.06 L619.97 488.94 L620.47 489.06 L620.97 488.94 L621.47 489.06 L621.97 488.94 L622.47 489.06 L622.97 488.94 L623.47 489.06 L623.97 488.94 L624.47 489.06 L624.97 488.94 L625.47 489.06 L625.97 488.94 L626.47 489.06 L626.97 488.94 L627.46 489.06 L627.96 488.94 L628.46 489.06 L628.96 488.94 L629.46 489.06 L629.96 488.94 L630.46 489.06 L630.96 488.94 L631.46 489.06 L631.96 488.94 L632.46 489.06 L632.96 488.94 L633.46 489.06 L633.96 488.94 L634.46 489.06 L634.96 488.94 L635.45 489.06 L635.95 488.94 L636.45 489.06 L636.95 488.94 L637.45 489.06 L637.95 488.94 L638.45 489.06 L638.95 488.94 L639.45 489.06 L639.95 488.94 L640.45 489.06 L640.95 488.94 L641.45 489.06 L641.95 488.94 L642.45 489.06 L642.95 488.94 L643.45 489.06 L643.94 488.94 L644.44 489.06 L644.94 488.94 L645.44 489.06 L645.94 488.94 L646.44 489.06 L646.94 488.94 L647.44 489.06 L647.94 488.94 L648.44 489.06 L648.94 488.94 L649.44 489.06 L649.94 488.94 L650.44 489.06 L650.94 488.94 L651.44 489.06 L651.93 488.94 L652.43 489.06 L652.93 488.94 L653.43 489.06 L653.93 488.94 L654.43 489.06 L654.93 488.94 L655.43 489.06 L655.93 488.94 L656.43 489.06 L656.93 488.94 L657.43 489.06 L657.93 488.94 L658.43 489.06 L658.93 488.94 L659.43 489.06 L659.92 488.94 L660.42 489.06 L660.92 488.94 L661.42 489.06 L661.92 488.94 L662.42 489.06 L662.92 488.94 L663.42 489.06 L663.92 488.94 L664.42 489.06 L664.92 488.94 L665.42 489.06 L665.92 488.94 L666.42 489.06 L666.92 488.94 L667.42 489.06 L667.91 488.94 L668.41 489.06 L668.91 488.94 L669.41 489.06 L669.91 488.94 L670.41 489.06 L670.91 488.94 L671.41 489.06 L671.91 488.94 L672.41 489.06 L672.91 488.94 L673.41 489.06 L673.91 488.94 L674.41 489.06 L674.91 488.94 L675.41 489.06 L675.90 488.94 L676.40 489.06 L676.90 488.94 L677.40 489.06 L677.90 488.94 L678.40 489.06 L678.90 488.94 L679.40 489.06 L679.90 488.94 L680.40 489.06 L680.90 488.94 L681.40 489.06 L681.90 488.94 L682.40 489.06 L682.90 488.94 L683.40 489.06 L683.90 488.94 L684.39 489.06 L684.89 488.94 L685.39 489.06 L685.89 488.94 L686.39 489.06 L686.89 488.94 L687.39 489.06 L687.89 488.94 L688.39 489.06 L688.89 488.94 L689.39 489.06 L689.89 488.94 L690.39 489.06 L690.89 488.94 L691.39 489.06 L691.89 488.94 L692.38 489.06 L692.88 488.94 L693.38 489.06 L693.88 488.94 L694.38 489.06 L694.88 488.94 L695.38 489.06 L695.88 488.94 L696.38 489.06 L696.88 488.94 L697.38 489.06 L697.88 488.94 L698.38 489.06 L698.88 488.94 L699.38 489.06 L699.88 488.94 L700.37 489.06 L700.87 488.94 L701.37 489.06 L701.87 488.94 L702.37 489.06 L702.87 488.94 L703.37 489.06 L703.87 488.94 L704.37 489.06 L704.87 488.94 L705.37 489.06 L705.87 488.94 L706.37 489.06 L706.87 488.94 L707.37 489.06 L707.87 488.94 L708.36 489.06 L708.86 488.94 L709.36 489.06 L709.86 488.94 L710.36 489.06 L710.86 488.94 L711.36 489.06 L711.86 488.94 L712.36 489.06 L712.86 488.94 L713.36 489.06 L713.86 488.94 L714.36 489.06 L714.86 488.94 L715.36 489.06 L715.86 488.94 L716.35 489.06 L716.85 488.94 L717.35 489.06 L717.85 488.94 L718.35 489.06 L718.85 488.94 L719.35 489.06 L719.85 488.94 L720.35 489.06 L720.85 488.94 L721.35 489.06 L721.85 488.94 L722.35 489.06 L722.85 488.94 L723.35 489.06 L723.85 488.94 L724.35 489.06 L724.84 488.94 L725.34 489.06 L725.84 488.94 L726.34 489.06 L726.84 488.94 L727.34 489.06 L727.84 488.94 L728.34 489.06 L728.84 488.94 L729.34 489.06 L729.84 488.94 L730.34 489.06 L730.84 488.94 L731.34 489.06 L731.84 488.94 L732.34 489.06 L732.83 488.94 L733.33 489.06 L733.83 488.94 L734.33 489.06 L734.83 488.94 L735.33 489.06 L735.83 488.94 L736.33 489.06 L736.83 488.94 L737.33 489.06 L737.83 488.94 L738.33 489.06 L738.83 488.94 L739.33 489.06 L739.83 488.94 L740.33 489.06 L740.82 488.94 L741.32 489.06 L741.82 488.94 L742.32 489.06 L742.82 488.94 L743.32 489.06 L743.82 488.94 L744.32 489.06 L744.82 488.94 L745.32 489.06 L745.82 488.94 L746.32 489.06 L746.82 488.94 L747.32 489.06 L747.82 488.94 L748.32 489.06 L748.81 488.94 L749.31 489.06 L749.81 488.94 L750.31 489.06 L750.81 488.94 L751.31 489.06 L751.81 488.94 L752.31 489.06 L752.81 488.94 L753.31 489.06 L753.81 488.94 L754.31 489.06 L754.81 488.94 L755.31 489.06 L755.81 488.94 L756.31 489.06 L756.80 488.94 L757.30 489.06 L757.80 488.94 L758.30 489.06 L758.80 488.94 L759.30 489.06 L759.80 488.94 L760.30 489.06 L760.80 488.92 L761.30 489.08 L761.80 488.92 L762.30 489.08 L762.80 488.92 L763.30 489.08 L763.80 488.92 L764.30 489.08 L764.80 488.92 L765.30 489.08 L765.80 488.92 L766.30 489.08 L766.80 488.92 L767.30 489.08 L767.80 488.92 L768.30 489.08 L768.81 488.92 L769.31 489.08 L769.81 488.92 L770.31 489.08 L770.81 488.92 L771.31 489.08 L771.81 488.92 L772.31 489.08 L772.81 488.92 L773.31 489.08 L773.81 488.92 L774.31 489.08 L774.81 488.92 L775.31 489.08 L775.81 488.92 L776.31 489.08 L776.81 488.92 L777.31 489.08 L777.81 488.92 L778.31 489.08 L778.81 488.92 L779.31 489.08 L779.81 488.92 L780.31 489.08 L780.81 488.92 L781.31 489.08 L781.81 488.92 L782.31 489.08 L782.81 488.92 L783.31 489.08 L783.81 488.92 L784.31 489.08 L784.82 488.92 L785.32 489.08 L785.82 488.92 L786.32 489.08 L786.82 488.92 L787.32 489.08 L787.82 488.92 L788.32 489.08 L788.82 488.92 L789.32 489.08 L789.82 488.92 L790.32 489.08 L790.82 488.92 L791.32 489.08 L791.82 488.92 L792.32 489.08 L792.82 488.92 L793.32 489.08 L793.82 488.92 L794.32 489.08 L794.82 488.92 L795.32 489.08 L795.82 488.92 L796.32 489.08 L796.82 488.92 L797.32 489.08 L797.82 488.92 L798.32 489.08 L798.82 488.92 L799.32 489.08 L799.82 488.92 L800.32 489.08 L800.83 488.92 L801.33 489.08 L801.83 488.92 L802.33 489.08 L802.83 488.92 L803.33 489.08 L803.83 488.92 L804.33 489.08 L804.83 488.92 L805.33 489.08 L805.83 488.92 L806.33 489.08 L806.83 488.92 L807.33 489.08 L807.83 488.92 L808.33 489.08 L808.83 488.92 L809.33 489.08 L809.83 488.92 L810.33 489.08 L810.83 488.92 L811.33 489.08 L811.83 488.92 L812.33 489.08 L812.83 488.92 L813.33 489.08 L813.83 488.92 L814.33 489.08 L814.83 488.92 L815.33 489.08 L815.83 488.92 L816.33 489.08 L816.84 488.92 L817.34 489.08 L817.84 488.92 L818.34 489.08 L818.84 488.92 L819.34 489.08 L819.84 488.92 L820.34 489.08 L820.84 488.92 L821.34 489.08 L821.84 488.92 L822.34 489.08 L822.84 488.92 L823.34 489.08 L823.84 488.92 L824.34 489.08 L824.84 488.92 L825.34 489.08 L825.84 488.92 L826.34 489.08 L826.84 488.92 L827.34 489.08 L827.84 488.92 L828.34 489.08 L828.84 488.92 L829.34 489.08 L829.84 488.92 L830.34 489.08 L830.84 488.92 L831.34 489.08 L831.84 488.92 L832.34 489.08 L832.85 488.92 L833.35 489.08 L833.85 488.92 L834.35 489.08 L834.85 488.92 L835.35 489.08 L835.85 488.92 L836.35 489.08 L836.85 488.92 L837.35 489.08 L837.85 488.92 L838.35 489.08 L838.85 488.92 L839.35 489.08 L839.85 488.92 L840.35 489.08 L840.85 488.92 L841.35 489.08 L841.85 488.92 L842.35 489.08 L842.85 488.92 L843.35 489.08 L843.85 488.92 L844.35 489.08 L844.85 488.92 L845.35 489.08 L845.85 488.92 L846.35 489.08 L846.85 488.92 L847.35 489.08 L847.85 488.92 L848.36 489.08 L848.86 488.92 L849.36 489.08 L849.86 488.92 L850.36 489.08 L850.86 488.92 L851.36 489.08 L851.86 488.92 L852.36 489.08 L852.86 488.92 L853.36 489.08 L853.86 488.92 L854.36 489.08 L854.86 488.92 L855.36 489.08 L855.86 488.92 L856.36 489.08 L856.86 488.92 L857.36 489.08 L857.86 488.92 L858.36 489.08 L858.86 488.92 L859.36 489.08 L859.86 488.92 L860.36 489.08 L860.86 488.92 L861.36 489.08 L861.86 488.92 L862.36 489.08 L862.86 488.92 L863.36 489.08 L863.86 488.92 L864.37 489.08 L864.87 488.92 L865.37 489.08 L865.87 488.92 L866.37 489.08 L866.87 488.92 L867.37 489.08 L867.87 488.92 L868.37 489.08 L868.87 488.92 L869.37 489.08 L869.87 488.92 L870.37 489.08 L870.87 488.92 L871.37 489.08 L871.87 488.92 L872.37 489.08 L872.87 488.92 L873.37 489.08 L873.87 488.92 L874.37 489.08 L874.87 488.92 L875.37 489.08 L875.87 488.92 L876.37 489.08 L876.87 488.92 L877.37 489.08 L877.87 488.92 L878.37 489.08 L878.87 488.92 L879.37 489.08 L879.87 488.92 L880.38 489.08 L880.88 488.92 L881.38 489.08 L881.88 488.92 L882.38 489.08 L882.88 488.92 L883.38 489.08 L883.88 488.92 L884.38 489.08 L884.88 488.92 L885.38 489.08 L885.88 488.92 L886.38 489.08 L886.88 488.92 L887.38 489.08 L887.88 488.92 L888.38 489.08 L888.88 488.92 L889.38 489.08 L889.88 488.92 L890.38 489.08 L890.88 488.92 L891.38 489.08 L891.88 488.92 L892.38 489.08 L892.88 488.92 L893.38 489.08 L893.88 488.92 L894.38 489.08 L894.88 488.92 L895.38 489.08 L895.88 488.92 L896.39 489.08 L896.89 488.92 L897.39 489.08 L897.89 488.92 L898.39 489.08 L898.89 488.92 L899.39 489.08 L899.89 488.92 L900.39 489.08 L900.89 488.92 L901.39 489.08 L901.89 488.92 L902.39 489.08 L902.89 488.92 L903.39 489.08 L903.89 488.92 L904.39 489.08 L904.89 488.92 L905.39 489.08 L905.89 488.92 L906.39 489.08 L906.89 488.92 L907.39 489.08 L907.89 488.92 L908.39 489.08 L908.89 488.92 L909.39 489.08 L909.89 488.92 L910.39 489.08 L910.89 488.92 L911.39 489.08 L911.89 488.92 L912.40 489.08 L912.90 488.92 L913.40 489.08 L913.90 488.92 L914.40 489.08 L914.90 488.92 L915.40 489.08 L915.90 488.92 L916.40 489.08 L916.90 488.92 L917.40 489.08 L917.90 488.92 L918.40 489.08 L918.90 488.92 L919.40 489.08 L919.90 488.95 L920.40 489.05 L920.90 488.95 L921.40 489.05 L921.90 488.95 L922.40 489.05 L922.90 488.95 L923.40 489.05 L923.90 488.95 L924.39 489.05 L924.89 488.95 L925.39 489.05 L925.89 488.95 L926.39 489.05 L926.89 488.95 L927.39 489.05 L927.89 488.95 L928.39 489.05 L928.89 488.95 L929.39 489.05 L929.89 488.95 L930.39 489.05 L930.89 488.95 L931.39 489.05 L931.89 488.95 L932.38 489.05 L932.88 488.95 L933.38 489.05 L933.88 488.95 L934.38 489.05 L934.88 488.95 L935.38 489.05 L935.88 488.95 L936.38 489.05 L936.88 488.95 L937.38 489.05 L937.88 488.95 L938.38 489.05 L938.88 488.95 L939.38 489.05 L939.88 488.95 L940.37 489.05 L940.87 488.95 L941.37 489.05 L941.87 488.95 L942.37 489.05 L942.87 488.95 L943.37 489.05 L943.87 488.95 L944.37 489.05 L944.87 488.95 L945.37 489.05 L945.87 488.95 L946.37 489.05 L946.87 488.95 L947.37 489.05 L947.87 488.95 L948.37 489.05 L948.86 488.95 L949.36 489.05 L949.86 488.95 L950.36 489.05 L950.86 488.95 L951.36 489.05 L951.86 488.95 L952.36 489.05 L952.86 488.95 L953.36 489.05 L953.86 488.95 L954.36 489.05 L954.86 488.95 L955.36 489.05 L955.86 488.95 L956.36 489.05 L956.85 488.95 L957.35 489.05 L957.85 488.95 L958.35 489.05 L958.85 488.95 L959.35 489.05 L959.85 488.95 L960.35 489.05 L960.85 488.95 L961.35 489.05 L961.85 488.95 L962.35 489.05 L962.85 488.95 L963.35 489.05 L963.85 488.95 L964.35 489.05 L964.84 488.95 L965.34 489.05 L965.84 488.95 L966.34 489.05 L966.84 488.95 L967.34 489.05 L967.84 488.95 L968.34 489.05 L968.84 488.95 L969.34 489.05 L969.84 488.95 L970.34 489.05 L970.84 488.95 L971.34 489.05 L971.84 488.95 L972.34 489.05 L972.84 488.95 L973.33 489.05 L973.83 488.95 L974.33 489.05 L974.83 488.95 L975.33 489.05 L975.83 488.95 L976.33 489.05 L976.83 488.95 L977.33 489.05 L977.83 488.95 L978.33 489.05 L978.83 488.95 L979.33 489.05 L979.83 488.95 L980.33 489.05 L980.83 488.95 L981.32 489.05 L981.82 488.95 L982.32 489.05 L982.82 488.95 L983.32 489.05 L983.82 488.95 L984.32 489.05 L984.82 488.95 L985.32 489.05 L985.82 488.95 L986.32 489.05 L986.82 488.95 L987.32 489.05 L987.82 488.95 L988.32 489.05 L988.82 488.95 L989.31 489.05 L989.81 488.95 L990.31 489.05 L990.81 488.95 L991.31 489.05 L991.81 488.95 L992.31 489.05 L992.81 488.95 L993.31 489.05 L993.81 488.95 L994.31 489.05 L994.81 488.95 L995.31 489.05 L995.81 488.95 L996.31 489.05 L996.81 488.95 L997.31 489.05 L997.80 488.95 L998.30 489.05 L998.80 488.95 L999.30 489.05 L999.80 488.95 L1000.30 489.05 L1000.80 488.95 L1001.30 489.05 L1001.80 488.95 L1002.30 489.05 L1002.80 488.95 L1003.30 489.05 L1003.80 488.95 L1004.30 489.05 L1004.80 488.95 L1005.30 489.05 L1005.79 488.95 L1006.29 489.05 L1006.79 488.95 L1007.29 489.05 L1007.79 488.95 L1008.29 489.05 L1008.79 488.95 L1009.29 489.05 L1009.79 488.95 L1010.29 489.05 L1010.79 488.95 L1011.29 489.05 L1011.79 488.95 L1012.29 489.05 L1012.79 488.95 L1013.29 489.05 L1013.79 488.95 L1014.28 489.05 L1014.78 488.95 L1015.28 489.05 L1015.78 488.95 L1016.28 489.05 L1016.78 488.95 L1017.28 489.05 L1017.78 488.95 L1018.28 489.05 L1018.78 488.95 L1019.28 489.05 L1019.78 488.95 L1020.28 489.05 L1020.78 488.95 L1021.28 489.05 L1021.78 488.95 L1022.27 489.05 L1022.77 488.95 L1023.27 489.05 L1023.77 488.95 L1024.27 489.05 L1024.77 488.95 L1025.27 489.05 L1025.77 488.95 L1026.27 489.05 L1026.77 488.95 L1027.27 489.05 L1027.77 488.95 L1028.27 489.05 L1028.77 488.95 L1029.27 489.05 L1029.77 488.95 L1030.26 489.05 L1030.76 488.95 L1031.26 489.05 L1031.76 488.95 L1032.26 489.05 L1032.76 488.95 L1033.26 489.05 L1033.76 488.95 L1034.26 489.05 L1034.76 488.95 L1035.26 489.05 L1035.76 488.95 L1036.26 489.05 L1036.76 488.95 L1037.26 489.05 L1037.76 488.95 L1038.26 489.05 L1038.75 488.95 L1039.25 489.05 L1039.75 488.95 L1040.25 489.05 L1040.75 488.95 L1041.25 489.05 L1041.75 488.95 L1042.25 489.05 L1042.75 488.95 L1043.25 489.05 L1043.75 488.95 L1044.25 489.05 L1044.75 488.95 L1045.25 489.05 L1045.75 488.95 L1046.25 489.05 L1046.74 488.95 L1047.24 489.05 L1047.74 488.95 L1048.24 489.05 L1048.74 488.95 L1049.24 489.05 L1049.74 488.95 L1050.24 489.05 L1050.74 488.95 L1051.24 489.05 L1051.74 488.95 L1052.24 489.05 L1052.74 488.95 L1053.24 489.05 L1053.74 488.95 L1054.24 489.05 L1054.73 488.95 L1055.23 489.05 L1055.73 488.95 L1056.23 489.05 L1056.73 488.95 L1057.23 489.05 L1057.73 488.95 L1058.23 489.05 L1058.73 488.95 L1059.23 489.05 L1059.73 488.95 L1060.23 489.05 L1060.73 488.95 L1061.23 489.05 L1061.73 488.95 L1062.23 489.05 L1062.73 488.95 L1063.22 489.05 L1063.72 488.95 L1064.22 489.05 L1064.72 488.95 L1065.22 489.05 L1065.72 488.95 L1066.22 489.05 L1066.72 488.95 L1067.22 489.05 L1067.72 488.95 L1068.22 489.05 L1068.72 488.95 L1069.22 489.05 L1069.72 488.95 L1070.22 489.05 L1070.72 488.95 L1071.21 489.05 L1071.71 488.95 L1072.21 489.05 L1072.71 488.95 L1073.21 489.05 L1073.71 488.95 L1074.21 489.05 L1074.71 488.95 L1075.21 489.05 L1075.71 488.95 L1076.21 489.05 L1076.71 488.95 L1077.21 489.05 L1077.71 488.95 L1078.21 489.05 L1078.71 488.95 L1079.20 489.05 L1079.70 488.95 L1080.20 489.05 L1080.70 488.95 L1081.20 489.05 L1081.70 488.95 L1082.20 489.05 L1082.70 488.95 L1083.20 489.04 L1083.70 488.96 L1084.20 489.04 L1084.70 488.96 L1085.20 489.04 L1085.70 488.96 L1086.20 489.04 L1086.70 488.96 L1087.20 489.04 L1087.70 488.96 L1088.20 489.04 L1088.70 488.96 L1089.20 489.04 L1089.70 488.96 L1090.20 489.04 L1090.70 488.96 L1091.20 489.04 L1091.70 488.96 L1092.20 489.04 L1092.70 488.96 L1093.21 489.04 L1093.71 488.96 L1094.21 489.04 L1094.71 488.96 L1095.21 489.04 L1095.71 488.96 L1096.21 489.04 L1096.71 488.96 L1097.21 489.04 L1097.71 488.96 L1098.21 489.04 L1098.71 488.96 L1099.21 489.04 L1099.71 488.96 L1100.21 489.04 L1100.71 488.96 L1101.21 489.04 L1101.71 488.96 L1102.21 489.04 L1102.71 488.96 L1103.21 489.04 L1103.71 488.96 L1104.21 489.04 L1104.71 488.96 L1105.21 489.04 L1105.71 488.96 L1106.21 489.04 L1106.71 488.96 L1107.21 489.04 L1107.71 488.96 L1108.21 489.04 L1108.71 488.96 L1109.21 489.04 L1109.71 488.96 L1110.21 489.04 L1110.71 488.96 L1111.21 489.04 L1111.71 488.96 L1112.21 489.04 L1112.71 488.96 L1113.22 489.04 L1113.72 488.96 L1114.22 489.04 L1114.72 488.96 L1115.22 489.04 L1115.72 488.96 L1116.22 489.04 L1116.72 488.96 L1117.22 489.04 L1117.72 488.96 L1118.22 489.04 L1118.72 488.96 L1119.22 489.04 L1119.72 488.96 L1120.22 489.04 L1120.72 488.96 L1121.22 489.04 L1121.72 488.96 L1122.22 489.04 L1122.72 488.96 L1123.22 489.04 L1123.72 488.96 L1124.22 489.04 L1124.72 488.96 L1125.22 489.04 L1125.72 488.96 L1126.22 489.04 L1126.72 488.96 L1127.22 489.04 L1127.72 488.96 L1128.22 489.04 L1128.72 488.96 L1129.22 489.04 L1129.72 488.96 L1130.22 489.04 L1130.72 488.96 L1131.22 489.04 L1131.72 488.96 L1132.22 489.04 L1132.73 488.96 L1133.23 489.04 L1133.73 488.96 L1134.23 489.04 L1134.73 488.96 L1135.23 489.04 L1135.73 488.96 L1136.23 489.04 L1136.73 488.96 L1137.23 489.04 L1137.73 488.96 L1138.23 489.04 L1138.73 488.96 L1139.23 489.04 L1139.73 488.96 L1140.23 489.04 L1140.73 488.96 L1141.23 489.04 L1141.73 488.96 L1142.23 489.04 L1142.73 488.96 L1143.23 489.04 L1143.73 488.96 L1144.23 489.04 L1144.73 488.96 L1145.23 489.04 L1145.73 488.96 L1146.23 489.04 L1146.73 488.96 L1147.23 489.04 L1147.73 488.96 L1148.23 489.04 L1148.73 488.96 L1149.23 489.04 L1149.73 488.96 L1150.23 489.04 L1150.73 488.96 L1151.23 489.04 L1151.73 488.96 L1152.23 489.04 L1152.74 488.96 L1153.24 489.04 L1153.74 488.96 L1154.24 489.04 L1154.74 488.96 L1155.24 489.04 L1155.74 488.96 L1156.24 489.04 L1156.74 488.96 L1157.24 489.04 L1157.74 488.96 L1158.24 489.04 L1158.74 488.96 L1159.24 489.04 L1159.74 488.96 L1160.24 489.04 L1160.74 488.96 L1161.24 489.04 L1161.74 488.96 L1162.24 489.04 L1162.74 488.96 L1163.24 489.04 L1163.74 488.96 L1164.24 489.04 L1164.74 488.96 L1165.24 489.04 L1165.74 488.96 L1166.24 489.04 L1166.74 488.96 L1167.24 489.04 L1167.74 488.96 L1168.24 489.04 L1168.74 488.96 L1169.24 489.04 L1169.74 488.96 L1170.24 489.04 L1170.74 488.96 L1171.24 489.04 L1171.74 488.96 L1172.25 489.04 L1172.75 488.96 L1173.25 489.04 L1173.75 488.96 L1174.25 489.04 L1174.75 488.96 L1175.25 489.04 L1175.75 488.96 L1176.25 489.04 L1176.75 488.96 L1177.25 489.04 L1177.75 488.96 L1178.25 489.04 L1178.75 488.96 L1179.25 489.04 L1179.75 488.96 L1180.25 489.04 L1180.75 488.96 L1181.25 489.04 L1181.75 488.96 L1182.25 489.04 L1182.75 488.96 L1183.25 489.04 L1183.75 488.96 L1184.25 489.04 L1184.75 488.96 L1185.25 489.04 L1185.75 488.96 L1186.25 489.04 L1186.75 488.96 L1187.25 489.04 L1187.75 488.96 L1188.25 489.04 L1188.75 488.96 L1189.25 489.04 L1189.75 488.96 L1190.25 489.04 L1190.75 488.96 L1191.25 489.04 L1191.75 488.96 L1192.26 489.04 L1192.76 488.96 L1193.26 489.04 L1193.76 488.96 L1194.26 489.04 L1194.76 488.96 L1195.26 489.04 L1195.76 488.96 L1196.26 489.04 L1196.76 488.96 L1197.26 489.04 L1197.76 488.96 L1198.26 489.04 L1198.76 488.96 L1199.26 489.04 L1199.76 488.96 L1200.26 489.04 L1200.76 488.96 L1201.26 489.04 L1201.76 488.96 L1202.26 489.04 L1202.76 488.96 L1203.26 489.04 L1203.76 488.96 L1204.26 489.04 L1204.76 488.96 L1205.26 489.04 L1205.76 488.96 L1206.26 489.04 L1206.76 488.96 L1207.26 489.04 L1207.76 488.96 L1208.26 489.04 L1208.76 488.96 L1209.26 489.04 L1209.76 488.96 L1210.26 489.04 L1210.76 488.96 L1211.26 489.04 L1211.77 488.96 L1212.27 489.04 L1212.77 488.96 L1213.27 489.04 L1213.77 488.96 L1214.27 489.04 L1214.77 488.96 L1215.27 489.04 L1215.77 488.96 L1216.27 489.04 L1216.77 488.96 L1217.27 489.04 L1217.77 488.96 L1218.27 489.04 L1218.77 488.96 L1219.27 489.04 L1219.77 488.96 L1220.27 489.04 L1220.77 488.96 L1221.27 489.04 L1221.77 488.96 L1222.27 489.04 L1222.77 488.96 L1223.27 489.04 L1223.77 488.96 L1224.27 489.04 L1224.77 488.96 L1225.27 489.04 L1225.77 488.96 L1226.27 489.04 L1226.77 488.96 L1227.27 489.04 L1227.77 488.96 L1228.27 489.04 L1228.77 488.96 L1229.27 489.04 L1229.77 488.96 L1230.27 489.04 L1230.77 488.96 L1231.27 489.04 L1231.78 488.96 L1232.28 489.04 L1232.78 488.96 L1233.28 489.04 L1233.78 488.96 L1234.28 489.04 L1234.78 488.96 L1235.28 489.04 L1235.78 488.96 L1236.28 489.04 L1236.78 488.96 L1237.28 489.04 L1237.78 488.96 L1238.28 489.04 L1238.78 488.96 L1239.28 489.04 L1239.78 488.96 L1240.28 489.04 L1240.78 488.96 L1241.28 489.04 L1241.78 488.96 L1242.28 489.04 L1242.78 488.96 L1243.28 489.04 L1243.78 488.96 L1244.28 489.04 L1244.78 488.96 L1245.28 489.04 L1245.78 488.96 L1246.28 489.04 L1246.78 488.96 L1247.28 489.04 L1247.78 488.96 L1248.28 489.04 L1248.78 488.96 L1249.28 489.04 L1249.78 488.96 L1250.28 489.04 L1250.78 488.96 L1251.29 489.04 L1251.79 488.96 L1252.29 489.04 L1252.79 488.96 L1253.29 489.04 L1253.79 488.96 L1254.29 489.04 L1254.79 488.96 L1255.29 489.04 L1255.79 488.96 L1256.29 489.04 L1256.79 488.96 L1257.29 489.04 L1257.79 488.96 L1258.29 489.04 L1258.79 488.96 L1259.29 489.04 L1259.79 488.96 L1260.29 489.04 L1260.79 488.96 L1261.29 489.04 L1261.79 488.96 L1262.29 489.04 L1262.79 488.96 L1263.29 489.04 L1263.79 488.96 L1264.29 489.04 L1264.79 488.96 L1265.29 489.04 L1265.79 488.96 L1266.29 489.04 L1266.79 488.96 L1267.29 489.04 L1267.79 488.96 L1268.29 489.04 L1268.79 488.96 L1269.29 489.04 L1269.79 488.96 L1270.29 489.04 L1270.79 488.96 L1271.30 489.04 L1271.80 488.96 L1272.30 489.04 L1272.80 488.96 L1273.30 489.04 L1273.80 488.96 L1274.30 489.04 L1274.80 488.96 L1275.30 489.04 L1275.80 488.96 L1276.30 489.04 L1276.80 488.96 L1277.30 489.04 L1277.80 488.96 L1278.30 489.04 L1278.80 488.96 L1279.30 489.04 L1279.80 488.96 L1280.30 489.04 L1280.80 488.96 L1281.30 489.04 L1281.80 488.96 L1282.30 489.04 L1282.80 488.96 L1283.30 489.04 L1283.80 488.96 L1284.30 489.04 L1284.80 488.96 L1285.30 489.04 L1285.81 488.96 L1286.31 489.04 L1286.81 488.96 L1287.31 489.04 L1287.81 488.96 L1288.31 489.04 L1288.81 488.96 L1289.31 489.04 L1289.81 488.96 L1290.31 489.04 L1290.81 488.96 L1291.31 489.04 L1291.81 488.96 L1292.31 489.04 L1292.81 488.96 L1293.31 489.04 L1293.81 488.96 L1294.31 489.04 L1294.81 488.96 L1295.31 489.04 L1295.82 488.96 L1296.32 489.04 L1296.82 488.96 L1297.32 489.04 L1297.82 488.96 L1298.32 489.04 L1298.82 488.96 L1299.32 489.04 L1299.82 488.96 L1300.32 489.04 L1300.82 488.96 L1301.32 489.04 L1301.82 488.96 L1302.32 489.04 L1302.82 488.96 L1303.32 489.04 L1303.82 488.96 L1304.32 489.04 L1304.82 488.96 L1305.32 489.04 L1305.83 488.96 L1306.33 489.04 L1306.83 488.96 L1307.33 489.04 L1307.83 488.96 L1308.33 489.04 L1308.83 488.96 L1309.33 489.04 L1309.83 488.96 L1310.33 489.04 L1310.83 488.96 L1311.33 489.04 L1311.83 488.96 L1312.33 489.04 L1312.83 488.96 L1313.33 489.04 L1313.83 488.96 L1314.33 489.04 L1314.83 488.96 L1315.33 489.04 L1315.84 488.96 L1316.34 489.04 L1316.84 488.96 L1317.34 489.04 L1317.84 488.96 L1318.34 489.04 L1318.84 488.96 L1319.34 489.04 L1319.84 488.96 L1320.34 489.04 L1320.84 488.96 L1321.34 489.04 L1321.84 488.96 L1322.34 489.04 L1322.84 488.96 L1323.34 489.04 L1323.84 488.96 L1324.34 489.04 L1324.84 488.96 L1325.35 489.04 L1325.85 488.96 L1326.35 489.04 L1326.85 488.96 L1327.35 489.04 L1327.85 488.96 L1328.35 489.04 L1328.85 488.96 L1329.35 489.04 L1329.85 488.96 L1330.35 489.04 L1330.85 488.96 L1331.35 489.04 L1331.85 488.96 L1332.35 489.04 L1332.85 488.96 L1333.35 489.04 L1333.85 488.96 L1334.35 489.04 L1334.85 488.96 L1335.36 489.04 L1335.86 488.96 L1336.36 489.04 L1336.86 488.96 L1337.36 489.04 L1337.86 488.96 L1338.36 489.04 L1338.86 488.96 L1339.36 489.04 L1339.86 488.96 L1340.36 489.04 L1340.86 488.96 L1341.36 489.04 L1341.86 488.96 L1342.36 489.04 L1342.86 488.96 L1343.36 489.04 L1343.86 488.96 L1344.36 489.04 L1344.86 488.96 L1345.37 489.04 L1345.87 488.96 L1346.37 489.04 L1346.87 488.96 L1347.37 489.04 L1347.87 488.96 L1348.37 489.04 L1348.87 488.96 L1349.37 489.04 L1349.87 488.96 L1350.37 489.04 L1350.87 488.96 L1351.37 489.04 L1351.87 488.96 L1352.37 489.04 L1352.87 488.96 L1353.37 489.04 L1353.87 488.96 L1354.37 489.04 L1354.87 488.96 L1355.38 489.04 L1355.88 488.96 L1356.38 489.04 L1356.88 488.96 L1357.38 489.04 L1357.88 488.96 L1358.38 489.04 L1358.88 488.96 L1359.38 489.04 L1359.88 488.96 L1360.38 489.04 L1360.88 488.96 L1361.38 489.04 L1361.88 488.96 L1362.38 489.04 L1362.88 488.96 L1363.38 489.04 L1363.88 488.96 L1364.38 489.04 L1364.89 488.96 L1365.39 489.04 L1365.89 488.96 L1366.39 489.04 L1366.89 488.96 L1367.39 489.04 L1367.89 488.96 L1368.39 489.04 L1368.89 488.96 L1369.39 489.04 L1369.89 488.96 L1370.39 489.04 L1370.89 488.96 L1371.39 489.04 L1371.89 488.96 L1372.39 489.04 L1372.89 488.96 L1373.39 489.04 L1373.89 488.96 L1374.39 489.04 L1374.90 488.96 L1375.40 489.04 L1375.90 488.96 L1376.40 489.04 L1376.90 488.96 L1377.40 489.04 L1377.90 488.96 L1378.40 489.04 L1378.90 488.96 L1379.40 489.04 L1379.90 488.96 L1380.40 489.04 L1380.90 488.96 L1381.40 489.04 L1381.90 488.96 L1382.40 489.04 L1382.90 488.96 L1383.40 489.04 L1383.90 488.96 L1384.40 489.04 L1384.91 488.96 L1385.41 489.04 L1385.91 488.96 L1386.41 489.04 L1386.91 488.96 L1387.41 489.04 L1387.91 488.96 L1388.41 489.04 L1388.91 488.96 L1389.41 489.04 L1389.91 488.96 L1390.41 489.04 L1390.91 488.96 L1391.41 489.04 L1391.91 488.96 L1392.41 489.04 L1392.91 488.96 L1393.41 489.04 L1393.91 488.96 L1394.41 489.04 L1394.92 488.96 L1395.42 489.04 L1395.92 488.96 L1396.42 489.04 L1396.92 488.96 L1397.42 489.04 L1397.92 488.96 L1398.42 489.04 L1398.92 488.96 L1399.42 489.04 L1399.92 488.96 L1400.42 489.04 L1400.92 488.96 L1401.42 489.04 L1401.92 488.96 L1402.42 489.04 L1402.92 488.96 L1403.42 489.04 L1403.92 488.96 L1404.43 489.04 L1404.93 488.96 L1405.43 489.04 L1405.93 488.96 L1406.43 489.04 L1406.93 488.96 L1407.43 489.04 L1407.93 488.96 L1408.43 489.04 L1408.93 488.96 L1409.43 489.04 L1409.93 488.96 L1410.43 489.04 L1410.93 488.96 L1411.43 489.04 L1411.93 488.96 L1412.43 489.04 L1412.93 488.96 L1413.43 489.04 L1413.93 488.96 L1414.44 489.04 L1414.94 488.96 L1415.44 489.04 L1415.94 488.96 L1416.44 489.04 L1416.94 488.96 L1417.44 489.04 L1417.94 488.96 L1418.44 489.04 L1418.94 488.96 L1419.44 489.04 L1419.94 488.96 L1420.44 489.04 L1420.94 488.96 L1421.44 489.04 L1421.94 488.96 L1422.44 489.04 L1422.94 488.96 L1423.44 489.04 L1423.94 488.96 L1424.45 489.04 L1424.95 488.96 L1425.45 489.04 L1425.95 488.96 L1426.45 489.04 L1426.95 488.96 L1427.45 489.04 L1427.95 488.96 L1428.45 489.04 L1428.95 488.96 L1429.45 489.04 L1429.95 488.96 L1430.45 489.04 L1430.95 488.96 L1431.45 489.04 L1431.95 488.96 L1432.45 489.04 L1432.95 488.96 L1433.45 489.04 L1433.95 488.96 L1434.46 489.04 L1434.96 488.96 L1435.46 489.04 L1435.96 488.96 L1436.46 489.04 L1436.96 488.96 L1437.46 489.04 L1437.96 488.96 L1438.46 489.04 L1438.96 488.96 L1439.46 489.04 L1439.96 488.96 L1440.46 489.04 L1440.96 488.96 L1441.46 489.04 L1441.96 488.96 L1442.46 489.04 L1442.96 488.96 L1443.46 489.04 L1443.97 488.96 L1444.47 489.04 L1444.97 488.96 L1445.47 489.04 L1445.97 488.96 L1446.47 489.04 L1446.97 488.96 L1447.47 489.04 L1447.97 488.96 L1448.47 489.04 L1448.97 488.96 L1449.47 489.04 L1449.97 488.96 L1450.47 489.04 L1450.97 488.96 L1451.47 489.04 L1451.97 488.96 L1452.47 489.04 L1452.97 488.96 L1453.47 489.04 L1453.98 488.96 L1454.48 489.04 L1454.98 488.96 L1455.48 489.04 L1455.98 488.96 L1456.48 489.04 L1456.98 488.96 L1457.48 489.04 L1457.98 488.96 L1458.48 489.04 L1458.98 488.96 L1459.48 489.04 L1459.98 488.96 L1460.48 489.04 L1460.98 488.96 L1461.48 489.04 L1461.98 488.96 L1462.48 489.04 L1462.98 488.96 L1463.48 489.04 L1463.99 488.96 L1464.49 489.04 L1464.99 488.96 L1465.49 489.04 L1465.99 488.96 L1466.49 489.04 L1466.99 488.96 L1467.49 489.04 L1467.99 488.96 L1468.49 489.04 L1468.99 488.96 L1469.49 489.04 L1469.99 488.96 L1470.49 489.04 L1470.99 488.96 L1471.49 489.04 L1471.99 488.96 L1472.49 489.04 L1472.99 488.96 L1473.49 489.04 L1474.00 488.96 L1474.50 489.04 L1475.00 488.96 L1475.50 489.04 L1476.00 488.96 L1476.50 489.04 L1477.00 488.96 L1477.50 489.04 L1478.00 488.96 L1478.50 489.04 L1479.00 488.96 L1479.50 489.04 L1480.00 488.96 L1480.50 489.04 L1481.00 488.96 L1481.50 489.04 L1482.00 488.96 L1482.50 489.04 L1483.00 488.96 L1483.50 489.04 L1484.00 488.96 L1484.50 489.04 L1485.00 488.96 L1485.50 489.04 L1486.00 488.96 L1486.50 489.04 L1487.00 488.96 L1487.50 489.04 L1488.00 488.96 L1488.50 489.04 L1489.00 488.96 L1489.50 489.04 L1490.00 488.96 L1490.50 489.04 L1491.00 488.96 L1491.50 489.04 L1492.00 488.96 L1492.50 489.04 L1493.00 488.96 L1493.50 489.04 L1494.00 488.96 L1494.50 489.04 L1495.00 488.96 L1495.50 489.04 L1496.00 488.96 L1496.50 489.04 L1497.00 489.00 L1497.25 486.36 L1497.50 484.15 L1497.75 482.22 L1498.00 480.48 L1498.25 478.88 L1498.50 477.39 L1498.75 475.99 L1499.00 474.67 L1499.25 473.42 L1499.49 472.22 L1499.74 471.08 L1499.99 469.97 L1500.24 468.91 L1500.49 467.88 L1500.74 466.88 L1500.99 465.91 L1501.24 464.97 L1501.49 464.06 L1501.74 463.16 L1501.99 462.29 L1502.24 461.44 L1502.49 460.60 L1502.74 459.79 L1502.99 458.99 L1503.24 458.20 L1503.49 457.43 L1503.74 456.67 L1503.99 455.93 L1504.24 455.20 L1504.48 454.48 L1504.73 453.77 L1504.98 453.07 L1505.23 452.38 L1505.48 451.70 L1505.73 451.03 L1505.98 450.37 L1506.23 449.72 L1506.48 449.08 L1506.73 448.44 L1506.98 447.82 L1507.23 447.20 L1507.48 446.59 L1507.73 445.98 L1507.98 445.38 L1508.23 444.79 L1508.48 444.20 L1508.73 443.62 L1508.98 443.05 L1509.23 442.48 L1509.47 441.92 L1509.72 441.36 L1509.97 440.81 L1510.22 440.26 L1510.47 439.72 L1510.72 439.18 L1510.97 438.65 L1511.22 438.12 L1511.47 437.60 L1511.72 437.08 L1511.97 436.56 L1512.22 436.05 L1512.47 435.55 L1512.72 435.04 L1512.97 434.55 L1513.22 434.05 L1513.47 433.56 L1513.72 433.07 L1513.97 432.59 L1514.22 432.11 L1514.46 431.63 L1514.71 431.16 L1514.96 430.68 L1515.21 430.22 L1515.46 429.75 L1515.71 429.29 L1515.96 428.83 L1516.21 428.38 L1516.46 427.92 L1516.71 427.47 L1516.96 427.03 L1517.21 426.58 L1517.46 426.14 L1517.71 425.70 L1517.96 425.27 L1518.21 424.83 L1518.46 424.40 L1518.71 423.97 L1518.96 423.54 L1519.21 423.12 L1519.45 422.70 L1519.70 422.28 L1519.95 421.86 L1520.20 421.45 L1520.45 421.03 L1520.70 420.62 L1520.95 420.21 L1521.20 419.81 L1521.45 419.40 L1521.70 419.00 L1522.20 418.98 L1522.70 419.02 L1523.20 418.98 L1523.70 419.02 L1524.20 418.98 L1524.70 419.02 L1525.20 418.98 L1525.70 419.02 L1526.20 418.98 L1526.70 419.02 L1527.20 418.98 L1527.70 419.02 L1528.20 418.98 L1528.70 419.02 L1529.20 418.98 L1529.70 419.02 L1530.20 418.98 L1530.70 419.02 L1531.20 418.98 L1531.70 419.02 L1532.20 418.98 L1532.70 419.02 L1533.20 418.98 L1533.70 419.02 L1534.20 418.98 L1534.70 419.02 L1535.20 418.98 L1535.70 419.02 L1536.20 418.98 L1536.70 419.02 L1537.20 418.98 L1537.70 419.02 L1538.20 418.98 L1538.70 419.02 L1539.21 418.98 L1539.71 419.02 L1540.21 418.98 L1540.71 419.02 L1541.21 418.98 L1541.71 419.02 L1542.21 418.98 L1542.71 419.02 L1543.21 418.98 L1543.71 419.02 L1544.21 418.98 L1544.71 419.02 L1545.21 418.98 L1545.71 419.02 L1546.21 418.98 L1546.71 419.02 L1547.21 418.98 L1547.71 419.02 L1548.21 418.98 L1548.71 419.02 L1549.21 418.98 L1549.71 419.02 L1550.21 418.98 L1550.71 419.02 L1551.21 418.98 L1551.71 419.02 L1552.21 418.98 L1552.71 419.02 L1553.21 418.98 L1553.71 419.02 L1554.21 418.98 L1554.71 419.02 L1555.21 418.98 L1555.71 419.02 L1556.21 418.98 L1556.71 419.02 L1557.21 418.98 L1557.71 419.02 L1558.21 418.98 L1558.71 419.02 L1559.21 418.98 L1559.71 419.02 L1560.21 418.98 L1560.71 419.02 L1561.21 418.98 L1561.71 419.02 L1562.21 418.98 L1562.71 419.02 L1563.21 418.98 L1563.71 419.02 L1564.21 418.98 L1564.71 419.02 L1565.21 418.98 L1565.71 419.02 L1566.21 418.98 L1566.71 419.02 L1567.21 418.98 L1567.71 419.02 L1568.21 418.98 L1568.71 419.02 L1569.21 418.98 L1569.71 419.02 L1570.21 418.98 L1570.71 419.02 L1571.21 418.98 L1571.71 419.02 L1572.21 418.98 L1572.71 419.02 L1573.21 418.98 L1573.72 419.02 L1574.22 418.98 L1574.72 419.02 L1575.22 418.98 L1575.72 419.02 L1576.22 418.98 L1576.72 419.02 L1577.22 418.98 L1577.72 419.02 L1578.22 418.98 L1578.72 419.02 L1579.22 418.98 L1579.72 419.02 L1580.22 418.98 L1580.72 419.02 L1581.22 418.98 L1581.72 419.02 L1582.22 418.98 L1582.72 419.02 L1583.22 418.98 L1583.72 419.02 L1584.22 418.98 L1584.72 419.02 L1585.22 418.98 L1585.72 419.02 L1586.22 418.98 L1586.72 419.02 L1587.22 418.98 L1587.72 419.02 L1588.22 418.98 L1588.72 419.02 L1589.22 418.98 L1589.72 419.02 L1590.22 418.98 L1590.72 419.02 L1591.22 418.98 L1591.72 419.02 L1592.22 418.98 L1592.72 419.02 L1593.22 418.98 L1593.72 419.02 L1594.22 418.98 L1594.72 419.02 L1595.22 418.98 L1595.72 419.02 L1596.22 418.98 L1596.72 419.02 L1597.22 418.98 L1597.72 419.02 L1598.22 418.98 L1598.72 419.02 L1599.22 418.98 L1599.72 419.02 L1600.22 418.98 L1600.72 419.02 L1601.22 418.98 L1601.72 419.02 L1602.22 418.98 L1602.72 419.02 L1603.22 418.98 L1603.72 419.02 L1604.22 418.98 L1604.72 419.02 L1605.22 418.98 L1605.72 419.02 L1606.22 418.98 L1606.72 419.02 L1607.22 418.98 L1607.72 419.02 L1608.23 418.98 L1608.73 419.02 L1609.23 418.98 L1609.73 419.02 L1610.23 418.98 L1610.73 419.02 L1611.23 418.98 L1611.73 419.02 L1612.23 418.98 L1612.73 419.02 L1613.23 418.98 L1613.73 419.02 L1614.23 418.98 L1614.73 419.02 L1615.23 418.98 L1615.73 419.02 L1616.23 418.98 L1616.73 419.02 L1617.23 418.98 L1617.73 419.02 L1618.23 418.98 L1618.73 419.02 L1619.23 418.98 L1619.73 419.02 L1620.23 418.98 L1620.73 419.02 L1621.23 418.98 L1621.73 419.02 L1622.23 418.98 L1622.73 419.02 L1623.23 418.98 L1623.73 419.02 L1624.23 418.98 L1624.73 419.02 L1625.23 418.98 L1625.73 419.02 L1626.23 418.98 L1626.73 419.02 L1627.23 418.98 L1627.73 419.02 L1628.23 418.98 L1628.73 419.02 L1629.23 418.98 L1629.73 419.02 L1630.23 418.98 L1630.73 419.02 L1631.23 418.98 L1631.73 419.02 L1632.23 418.98 L1632.73 419.02 L1633.23 418.98 L1633.73 419.02 L1634.23 418.98 L1634.73 419.02 L1635.23 418.98 L1635.73 419.02 L1636.23 418.98 L1636.73 419.02 L1637.23 418.98 L1637.73 419.02 L1638.23 418.98 L1638.73 419.02 L1639.23 418.98 L1639.73 419.02 L1640.23 418.98 L1640.73 419.02 L1641.23 418.98 L1641.73 419.02 L1642.23 418.98 L1642.74 419.02 L1643.24 418.98 L1643.74 419.02 L1644.24 418.98 L1644.74 419.02 L1645.24 418.98 L1645.74 419.02 L1646.24 418.98 L1646.74 419.02 L1647.24 418.98 L1647.74 419.02 L1648.24 418.98 L1648.74 419.02 L1649.24 418.98 L1649.74 419.02 L1650.24 418.98 L1650.74 419.02 L1651.24 418.98 L1651.74 419.02 L1652.24 418.98 L1652.74 419.02 L1653.24 418.98 L1653.74 419.02 L1654.24 418.98 L1654.74 419.02 L1655.24 418.98 L1655.74 419.02 L1656.24 418.98 L1656.74 419.02 L1657.24 418.98 L1657.74 419.02 L1658.24 418.98 L1658.74 419.02 L1659.24 418.98 L1659.74 419.02 L1660.24 418.98 L1660.74 419.02 L1661.24 418.98 L1661.74 419.02 L1662.24 418.98 L1662.74 419.02 L1663.24 418.98 L1663.74 419.02 L1664.24 418.98 L1664.74 419.02 L1665.24 418.98 L1665.74 419.02 L1666.24 418.98 L1666.74 419.02 L1667.24 418.98 L1667.74 419.02 L1668.24 418.98 L1668.74 419.02 L1669.24 418.98 L1669.74 419.02 L1670.24 418.98 L1670.74 419.02 L1671.24 418.98 L1671.74 419.02 L1672.24 418.98 L1672.74 419.02 L1673.24 418.98 L1673.74 419.02 L1674.24 418.98 L1674.74 419.02 L1675.24 418.98 L1675.74 419.02 L1676.24 418.98 L1676.74 419.02 L1677.25 418.98 L1677.75 419.02 L1678.25 418.98 L1678.75 419.02 L1679.25 418.98 L1679.75 419.02 L1680.25 418.98 L1680.75 419.02 L1681.25 418.98 L1681.75 419.02 L1682.25 418.98 L1682.75 419.02 L1683.25 418.98 L1683.75 419.02 L1684.25 418.98 L1684.75 419.02 L1685.25 418.98 L1685.75 419.02 L1686.25 418.98 L1686.75 419.02 L1687.25 418.98 L1687.75 419.02 L1688.25 418.98 L1688.75 419.02 L1689.25 418.98 L1689.75 419.02 L1690.25 418.98 L1690.75 419.02 L1691.25 418.98 L1691.75 419.02 L1692.25 418.98 L1692.75 419.02 L1693.25 418.98 L1693.75 419.02 L1694.25 418.98 L1694.75 419.02 L1695.25 418.98 L1695.75 419.02 L1696.25 418.98 L1696.75 419.02 L1697.25 418.98 L1697.75 419.02 L1698.25 418.98 L1698.75 419.02 L1699.25 418.98 L1699.75 419.02 L1700.25 418.98 L1700.75 419.02 L1701.25 418.98 L1701.75 419.02 L1702.25 418.98 L1702.75 419.02 L1703.25 418.98 L1703.75 419.02 L1704.25 418.98 L1704.75 419.02 L1705.25 418.98 L1705.75 419.02 L1706.25 418.98 L1706.75 419.02 L1707.25 418.98 L1707.75 419.02 L1708.25 418.98 L1708.75 419.02 L1709.25 418.98 L1709.75 419.02 L1710.25 418.98 L1710.75 419.02 L1711.25 418.98 L1711.76 419.02 L1712.26 418.98 L1712.76 419.02 L1713.26 418.98 L1713.76 419.02 L1714.26 418.98 L1714.76 419.02 L1715.26 418.98 L1715.76 419.02 L1716.26 418.98 L1716.76 419.02 L1717.26 418.98 L1717.76 419.02 L1718.26 418.98 L1718.76 419.02 L1719.26 418.98 L1719.76 419.02 L1720.26 418.98 L1720.76 419.02 L1721.26 418.98 L1721.76 419.02 L1722.26 418.98 L1722.76 419.02 L1723.26 418.98 L1723.76 419.02 L1724.26 418.98 L1724.76 419.02 L1725.26 418.98 L1725.76 419.02 L1726.26 418.98 L1726.76 419.02 L1727.26 418.98 L1727.76 419.02 L1728.26 418.98 L1728.76 419.02 L1729.26 418.98 L1729.76 419.02 L1730.26 418.98 L1730.76 419.02 L1731.26 418.98 L1731.76 419.02 L1732.26 418.98 L1732.76 419.02 L1733.26 418.98 L1733.76 419.02 L1734.26 418.98 L1734.76 419.02 L1735.26 418.98 L1735.76 419.02 L1736.26 418.98 L1736.76 419.02 L1737.26 418.98 L1737.76 419.02 L1738.26 418.98 L1738.76 419.02 L1739.26 418.98 L1739.76 419.02 L1740.26 418.98 L1740.76 419.02 L1741.26 418.98 L1741.76 419.02 L1742.26 418.98 L1742.76 419.02 L1743.26 418.98 L1743.76 419.02 L1744.26 418.98 L1744.76 419.02 L1745.26 418.98 L1745.76 419.02 L1746.27 418.98 L1746.77 419.02 L1747.27 418.98 L1747.77 419.02 L1748.27 418.98 L1748.77 419.02 L1749.27 418.98 L1749.77 419.02 L1750.27 418.98 L1750.77 419.02 L1751.27 418.98 L1751.77 419.02 L1752.27 418.98 L1752.77 419.02 L1753.27 418.98 L1753.77 419.02 L1754.27 418.98 L1754.77 419.02 L1755.27 418.98 L1755.77 419.02 L1756.27 418.98 L1756.77 419.02 L1757.27 418.98 L1757.77 419.02 L1758.27 418.98 L1758.77 419.02 L1759.27 418.98 L1759.77 419.02 L1760.27 418.98 L1760.77 419.02 L1761.27 418.98 L1761.77 419.02 L1762.27 418.98 L1762.77 419.02 L1763.27 418.98 L1763.77 419.02 L1764.27 418.98 L1764.77 419.02 L1765.27 418.98 L1765.77 419.02 L1766.27 418.98 L1766.77 419.02 L1767.27 418.98 L1767.77 419.02 L1768.27 418.98 L1768.77 419.02 L1769.27 418.98 L1769.77 419.02 L1770.27 418.98 L1770.77 419.02 L1771.27 418.98 L1771.77 419.02 L1772.27 418.98 L1772.77 419.02 L1773.27 418.98 L1773.77 419.02 L1774.27 418.98 L1774.77 419.02 L1775.27 418.98 L1775.77 419.02 L1776.27 418.98 L1776.77 419.02 L1777.27 418.98 L1777.77 419.02 L1778.27 418.98 L1778.77 419.02 L1779.27 418.98 L1779.77 419.02 L1780.27 418.98 L1780.78 419.02 L1781.28 418.98 L1781.78 419.02 L1782.28 418.98 L1782.78 419.02 L1783.28 418.98 L1783.78 419.02 L1784.28 418.98 L1784.78 419.02 L1785.28 418.98 L1785.78 419.02 L1786.28 418.98 L1786.78 419.02 L1787.28 418.98 L1787.78 419.02 L1788.28 418.98 L1788.78 419.02 L1789.28 418.98 L1789.78 419.02 L1790.28 418.98 L1790.78 419.02 L1791.28 418.98 L1791.78 419.02 L1792.28 418.98 L1792.78 419.02 L1793.28 418.98 L1793.78 419.02 L1794.28 418.98 L1794.78 419.02 L1795.28 418.98 L1795.78 419.02 L1796.28 418.98 L1796.78 419.02 L1797.28 418.98 L1797.78 419.02 L1798.28 418.98 L1798.78 419.02 L1799.28 418.98 L1799.78 419.02 L1800.28 418.98 L1800.78 419.02 L1801.28 418.98 L1801.78 419.02 L1802.28 418.98 L1802.78 419.02 L1803.28 418.98 L1803.78 419.02 L1804.28 418.98 L1804.78 419.02 L1805.28 418.98 L1805.78 419.02 L1806.28 418.98 L1806.78 419.02 L1807.28 418.98 L1807.78 419.02 L1808.28 418.98 L1808.78 419.02 L1809.28 418.98 L1809.78 419.02 L1810.28 418.98 L1810.78 419.02 L1811.28 418.98 L1811.78 419.02 L1812.28 418.98 L1812.78 419.02 L1813.28 418.98 L1813.78 419.02 L1814.28 418.98 L1814.78 419.02 L1815.29 418.98 L1815.79 419.02 L1816.29 418.98 L1816.79 419.02 L1817.29 418.98 L1817.79 419.02 L1818.29 418.98 L1818.79 419.02 L1819.29 418.98 L1819.79 419.02 L1820.29 418.98 L1820.79 419.02 L1821.29 418.98 L1821.79 419.02 L1822.29 418.98 L1822.79 419.02 L1823.29 418.98 L1823.79 419.02 L1824.29 418.98 L1824.79 419.02 L1825.29 418.98 L1825.79 419.02 L1826.29 418.98 L1826.79 419.02 L1827.29 418.98 L1827.79 419.02 L1828.29 418.98 L1828.79 419.02 L1829.29 418.98 L1829.79 419.02 L1830.29 418.98 L1830.79 419.02 L1831.29 418.98 L1831.79 419.02 L1832.29 418.98 L1832.79 419.02 L1833.29 418.98 L1833.79 419.02 L1834.29 418.98 L1834.79 419.02 L1835.29 418.98 L1835.79 419.02 L1836.29 418.98 L1836.79 419.02 L1837.29 418.98 L1837.79 419.02 L1838.29 418.98 L1838.79 419.02 L1839.29 418.98 L1839.79 419.02 L1840.29 418.98 L1840.79 419.02 L1841.29 418.98 L1841.79 419.02 L1842.29 418.98 L1842.79 419.02 L1843.29 418.98 L1843.79 419.02 L1844.29 418.98 L1844.79 419.02 L1845.29 418.98 L1845.79 419.02 L1846.29 418.98 L1846.79 419.02 L1847.29 418.98 L1847.79 419.02 L1848.29 418.98 L1848.79 419.02 L1849.29 418.98 L1849.80 419.02 L1850.30 418.98 L1850.80 419.02 L1851.30 418.98 L1851.80 419.02 L1852.30 418.98 L1852.80 419.02 L1853.30 418.98 L1853.80 419.02 L1854.30 418.98 L1854.80 419.02 L1855.30 418.98 L1855.80 419.02 L1856.30 418.98 L1856.80 419.02 L1857.30 418.98 L1857.80 419.02 L1858.30 418.98 L1858.80 419.02 L1859.30 418.98 L1859.80 419.02 L1860.30 418.98 L1860.80 419.02 L1861.30 418.98 L1861.80 419.02 L1862.30 418.98 L1862.80 419.02 L1863.30 418.98 L1863.80 419.02 L1864.30 418.98 L1864.80 419.02 L1865.30 418.98 L1865.80 419.02 L1866.30 418.98 L1866.80 419.00 L1867.05 419.37 L1867.30 419.74 L1867.55 420.11 L1867.80 420.49 L1868.05 420.86 L1868.30 421.24 L1868.55 421.62 L1868.80 422.00 L1869.05 422.38 L1869.30 422.77 L1869.54 423.15 L1869.79 423.54 L1870.04 423.93 L1870.29 424.33 L1870.54 424.72 L1870.79 425.12 L1871.04 425.52 L1871.29 425.92 L1871.54 426.32 L1871.79 426.73 L1872.04 427.14 L1872.29 427.55 L1872.54 427.96 L1872.79 428.38 L1873.04 428.79 L1873.29 429.21 L1873.54 429.64 L1873.79 430.06 L1874.04 430.49 L1874.29 430.92 L1874.54 431.35 L1874.79 431.79 L1875.03 432.22 L1875.28 432.67 L1875.53 433.11 L1875.78 433.56 L1876.03 434.01 L1876.28 434.46 L1876.53 434.92 L1876.78 435.38 L1877.03 435.84 L1877.28 436.31 L1877.53 436.78 L1877.78 437.25 L1878.03 437.73 L1878.28 438.21 L1878.53 438.69 L1878.78 439.18 L1879.03 439.67 L1879.28 440.17 L1879.53 440.67 L1879.78 441.17 L1880.03 441.68 L1880.28 442.19 L1880.52 442.71 L1880.77 443.24 L1881.02 443.76 L1881.27 444.30 L1881.52 444.83 L1881.77 445.38 L1882.02 445.93 L1882.27 446.48 L1882.52 447.04 L1882.77 447.61 L1883.02 448.18 L1883.27 448.76 L1883.52 449.34 L1883.77 449.93 L1884.02 450.53 L1884.27 451.14 L1884.52 451.75 L1884.77 452.37 L1885.02 453.00 L1885.27 453.64 L1885.52 454.29 L1885.77 454.95 L1886.01 455.61 L1886.26 456.29 L1886.51 456.98 L1886.76 457.68 L1887.01 458.39 L1887.26 459.11 L1887.51 459.85 L1887.76 460.59 L1888.01 461.36 L1888.26 462.14 L1888.51 462.93 L1888.76 463.75 L1889.01 464.58 L1889.26 465.43 L1889.51 466.30 L1889.76 467.20 L1890.01 468.12 L1890.26 469.07 L1890.51 470.05 L1890.76 471.06 L1891.01 472.11 L1891.26 473.20 L1891.50 474.34 L1891.75 475.53 L1892.00 476.78 L1892.25 478.10 L1892.50 479.51 L1892.75 481.02 L1893.00 482.66 L1893.25 484.47 L1893.50 486.53 L1893.75 488.96 L1894.00 492.11 L1898.70 488.65" fill="none" stroke="#000" stroke-width="4" stroke-dasharray="22.8 10.5333" stroke-dashoffset="2.1"/>
<path class="g" d="M240.00 1302.28 L241.00 1302.42 L242.00 1302.55 L243.00 1302.69 L244.00 1302.83 L245.00 1302.96 L246.00 1303.10 L247.00 1303.24 L248.00 1303.38 L249.00 1303.52 L250.00 1303.65 L251.00 1303.79 L252.00 1303.93 L253.00 1304.07 L254.00 1304.21 L255.00 1304.35 L256.00 1304.49 L257.00 1304.63 L258.00 1304.77 L259.00 1304.91 L260.00 1305.05 L261.00 1305.19 L262.00 1305.33 L263.00 1305.47 L264.00 1305.62 L265.00 1305.76 L266.00 1305.90 L267.00 1306.04 L268.00 1306.18 L269.00 1306.33 L270.00 1306.47 L271.00 1306.61 L272.00 1306.75 L273.00 1306.90 L274.00 1307.04 L275.00 1307.18 L276.00 1307.33 L277.00 1307.47 L278.00 1307.62 L279.00 1307.76 L280.00 1307.90 L281.00 1308.05 L282.00 1308.19 L283.00 1308.34 L284.00 1308.48 L285.00 1308.63 L286.00 1308.77 L287.00 1308.92 L288.00 1309.06 L289.00 1309.21 L290.00 1309.36 L291.00 1309.50 L292.00 1309.65 L293.00 1309.79 L294.00 1309.94 L295.00 1310.09 L296.00 1310.23 L297.00 1310.38 L298.00 1310.53 L299.00 1310.67 L300.00 1310.82 L301.00 1310.97 L302.00 1311.12 L303.00 1311.26 L304.00 1311.41 L305.00 1311.56 L306.00 1311.71 L307.00 1311.85 L308.00 1312.00 L309.00 1312.15 L310.00 1312.30 L311.00 1312.45 L312.00 1312.59 L313.00 1312.74 L314.00 1312.89 L315.00 1313.04 L316.00 1313.19 L317.00 1313.34 L318.00 1313.49 L319.00 1313.64 L320.00 1313.79 L321.00 1313.93 L322.00 1314.08 L323.00 1314.23 L324.00 1314.38 L325.00 1314.53 L326.00 1314.68 L327.00 1314.83 L328.00 1314.98 L329.00 1315.13 L330.00 1315.28 L331.00 1315.43 L332.00 1315.58 L333.00 1315.73 L334.00 1315.88 L335.00 1316.03 L336.00 1316.18 L337.00 1316.33 L338.00 1316.48 L339.00 1316.63 L340.00 1316.78 L341.00 1316.93 L342.00 1317.08 L343.00 1317.23 L344.00 1317.38 L345.00 1317.53 L346.00 1317.68 L347.00 1317.83 L348.00 1317.98 L349.00 1318.14 L350.00 1318.29 L351.00 1318.44 L352.00 1318.59 L353.00 1318.74 L354.00 1318.89 L355.00 1319.04 L356.00 1319.19 L357.00 1319.34 L358.00 1319.49 L359.00 1319.64 L360.00 1319.79 L361.00 1319.94 L362.00 1320.09 L363.00 1320.24 L364.00 1320.39 L365.00 1320.55 L366.00 1320.70 L367.00 1320.85 L368.00 1321.00 L369.00 1321.15 L370.00 1321.30 L371.00 1321.45 L372.00 1321.60 L373.00 1321.75 L374.00 1321.90 L375.00 1322.05 L376.00 1322.20 L377.00 1322.35 L378.00 1322.50 L379.00 1322.65 L380.00 1322.80 L381.00 1322.95 L382.00 1323.10 L383.00 1323.25 L384.00 1323.40 L385.00 1323.55 L386.00 1323.70 L387.00 1323.85 L388.00 1324.00 L389.00 1324.15 L390.00 1324.30 L391.00 1324.45 L392.00 1324.60 L393.00 1324.75 L394.00 1324.90 L395.00 1325.05 L396.00 1325.20 L397.00 1325.35 L398.00 1325.49 L399.00 1325.64 L400.00 1325.79 L401.00 1325.94 L402.00 1326.09 L403.00 1326.24 L404.00 1326.39 L405.00 1326.54 L406.00 1326.68 L407.00 1326.83 L408.00 1326.98 L409.00 1327.13 L410.00 1327.28 L411.00 1327.42 L412.00 1327.57 L413.00 1327.72 L414.00 1327.87 L415.00 1328.01 L416.00 1328.16 L417.00 1328.31 L418.00 1328.45 L419.00 1328.60 L420.00 1328.75 L421.00 1328.89 L422.00 1329.04 L423.00 1329.19 L424.00 1329.33 L425.00 1329.48 L426.00 1329.63 L427.00 1329.77 L428.00 1329.92 L429.00 1330.06 L430.00 1330.21 L431.00 1330.35 L432.00 1330.50 L433.00 1330.64 L434.00 1330.79 L435.00 1330.93 L436.00 1331.08 L437.00 1331.22 L438.00 1331.37 L439.00 1331.51 L440.00 1331.65 L441.00 1331.80 L442.00 1331.94 L443.00 1332.08 L444.00 1332.23 L445.00 1332.37 L446.00 1332.51 L447.00 1332.65 L448.00 1332.80 L449.00 1332.94 L450.00 1333.08 L451.00 1333.22 L452.00 1333.36 L453.00 1333.51 L454.00 1333.65 L455.00 1333.79 L456.00 1333.93 L457.00 1334.07 L458.00 1334.21 L459.00 1334.35 L460.00 1334.49 L461.00 1334.63 L462.00 1334.77 L463.00 1334.91 L464.00 1335.05 L465.00 1335.19 L466.00 1335.33 L467.00 1335.46 L468.00 1335.60 L469.00 1335.74 L470.00 1335.88 L471.00 1336.02 L472.00 1336.15 L473.00 1336.29 L474.00 1336.43 L475.00 1336.56 L476.00 1336.70 L477.00 1336.84 L478.00 1336.97 L479.00 1337.11 L480.00 1337.24 L481.00 1337.38 L482.00 1337.51 L483.00 1337.65 L484.00 1337.78 L485.00 1337.92 L486.00 1338.05 L487.00 1338.18 L488.00 1338.32 L489.00 1338.45 L490.00 1338.58 L491.00 1338.72 L492.00 1338.85 L493.00 1338.98 L494.00 1339.11 L495.00 1339.24 L496.00 1339.38 L497.00 1339.51 L498.00 1339.64 L499.00 1339.77 L500.00 1339.90 L501.00 1340.03 L502.00 1340.16 L503.00 1340.29 L504.00 1340.42 L505.00 1340.55 L506.00 1340.67 L507.00 1340.80 L508.00 1340.93 L509.00 1341.06 L510.00 1341.18 L511.00 1341.31 L512.00 1341.44 L513.00 1341.56 L514.00 1341.69 L515.00 1341.82 L516.00 1341.94 L517.00 1342.07 L518.00 1342.19 L519.00 1342.32 L520.00 1342.44 L521.00 1342.56 L522.00 1342.69 L523.00 1342.81 L524.00 1342.93 L525.00 1343.06 L526.00 1343.18 L527.00 1343.30 L528.00 1343.42 L529.00 1343.54 L530.00 1343.66 L531.00 1343.78 L532.00 1343.90 L533.00 1344.02 L534.00 1344.14 L535.00 1344.26 L536.00 1344.38 L537.00 1344.50 L538.00 1344.62 L539.00 1344.73 L540.00 1344.85 L541.00 1344.97 L542.00 1345.09 L543.00 1345.20 L544.00 1345.32 L545.00 1345.43 L546.00 1345.55 L547.00 1345.66 L548.00 1345.78 L549.00 1345.89 L550.00 1346.01 L551.00 1346.12 L552.00 1346.23 L553.00 1346.34 L554.00 1346.46 L555.00 1346.57 L556.00 1346.68 L557.00 1346.79 L558.00 1346.90 L559.00 1347.01 L560.00 1347.12 L561.00 1347.23 L562.00 1347.34 L563.00 1347.45 L564.00 1347.56 L565.00 1347.67 L566.00 1347.77 L567.00 1347.88 L568.00 1347.99 L569.00 1348.09 L570.00 1348.20 L571.00 1348.30 L572.00 1348.41 L573.00 1348.51 L574.00 1348.62 L575.00 1348.72 L576.00 1348.83 L577.00 1348.93 L578.00 1349.03 L579.00 1349.13 L580.00 1349.24 L581.00 1349.34 L582.00 1349.44 L583.00 1349.54 L584.00 1349.64 L585.00 1349.74 L586.00 1349.84 L587.00 1349.94 L588.00 1350.04 L589.00 1350.13 L590.00 1350.23 L591.00 1350.33 L592.00 1350.42 L593.00 1350.52 L594.00 1350.62 L595.00 1350.71 L596.00 1350.81 L597.00 1350.90 L598.00 1350.99 L599.00 1351.09 L600.00 1351.18 L601.00 1351.27 L602.00 1351.37 L603.00 1351.46 L604.00 1351.55 L605.00 1351.64 L606.00 1351.73 L607.00 1351.82 L608.00 1351.91 L609.00 1352.00 L610.00 1352.09 L611.00 1352.18 L612.00 1352.26 L613.00 1352.35 L614.00 1352.44 L615.00 1352.52 L616.00 1352.61 L617.00 1352.69 L618.00 1352.78 L619.00 1352.86 L620.00 1352.95 L621.00 1353.03 L622.00 1353.11 L623.00 1353.20 L624.00 1353.28 L625.00 1353.36 L626.00 1353.44 L627.00 1353.52 L628.00 1353.60 L629.00 1353.68 L630.00 1353.76 L631.00 1353.84 L632.00 1353.92 L633.00 1353.99 L634.00 1354.07 L635.00 1354.15 L636.00 1354.22 L637.00 1354.30 L638.00 1354.37 L639.00 1354.45 L640.00 1354.52 L641.00 1354.60 L642.00 1354.67 L643.00 1354.74 L644.00 1354.81 L645.00 1354.88 L646.00 1354.96 L647.00 1355.03 L648.00 1355.10 L649.00 1355.17 L650.00 1355.23 L651.00 1355.30 L652.00 1355.37 L653.00 1355.44 L654.00 1355.51 L655.00 1355.57 L656.00 1355.64 L657.00 1355.70 L658.00 1355.77 L659.00 1355.83 L660.00 1355.90 L661.00 1355.96 L662.00 1356.02 L663.00 1356.08 L664.00 1356.15 L665.00 1356.21 L666.00 1356.27 L667.00 1356.33 L668.00 1356.39 L669.00 1356.45 L670.00 1356.51 L671.00 1356.56 L672.00 1356.62 L673.00 1356.68 L674.00 1356.73 L675.00 1356.79 L676.00 1356.85 L677.00 1356.90 L678.00 1356.95 L679.00 1357.01 L680.00 1357.06 L681.00 1357.11 L682.00 1357.17 L683.00 1357.22 L684.00 1357.27 L685.00 1357.32 L686.00 1357.37 L687.00 1357.42 L688.00 1357.47 L689.00 1357.52 L690.00 1357.56 L691.00 1357.61 L692.00 1357.66 L693.00 1357.70 L694.00 1357.75 L695.00 1357.79 L696.00 1357.84 L697.00 1357.88 L698.00 1357.93 L699.00 1357.97 L700.00 1358.01 L701.00 1358.05 L702.00 1358.09 L703.00 1358.13 L704.00 1358.17 L705.00 1358.21 L706.00 1358.25 L707.00 1358.29 L708.00 1358.33 L709.00 1358.37 L710.00 1358.40 L711.00 1358.44 L712.00 1358.47 L713.00 1358.51 L714.00 1358.54 L715.00 1358.58 L716.00 1358.61 L717.00 1358.64 L718.00 1358.68 L719.00 1358.71 L720.00 1358.74 L721.00 1358.77 L722.00 1358.80 L723.00 1358.83 L724.00 1358.86 L725.00 1358.88 L726.00 1358.91 L727.00 1358.94 L728.00 1358.97 L729.00 1358.99 L730.00 1359.02 L731.00 1359.04 L732.00 1359.07 L733.00 1359.09 L734.00 1359.11 L735.00 1359.13 L736.00 1359.16 L737.00 1359.18 L738.00 1359.20 L739.00 1359.22 L740.00 1359.24 L741.00 1359.26 L742.00 1359.28 L743.00 1359.29 L744.00 1359.31 L745.00 1359.33 L746.00 1359.34 L747.00 1359.36 L748.00 1359.37 L749.00 1359.39 L750.00 1359.40 L751.00 1359.42 L752.00 1359.43 L753.00 1359.44 L754.00 1359.45 L755.00 1359.46 L756.00 1359.47 L757.00 1359.48 L758.00 1359.49 L759.00 1359.50 L760.00 1359.51 L761.00 1359.52 L762.00 1359.52 L763.00 1359.53 L764.00 1359.53 L765.00 1359.54 L766.00 1359.54 L767.00 1359.55 L768.00 1359.55 L769.00 1359.55 L770.00 1359.56 L771.00 1359.56 L772.00 1359.56 L773.00 1359.56 L774.00 1359.56 L775.00 1359.56 L776.00 1359.56 L777.00 1359.56 L778.00 1359.55 L779.00 1359.55 L780.00 1359.55 L781.00 1359.54 L782.00 1359.54 L783.00 1359.53 L784.00 1359.53 L785.00 1359.52 L786.00 1359.51 L787.00 1359.50 L788.00 1359.50 L789.00 1359.49 L790.00 1359.48 L791.00 1359.47 L792.00 1359.46 L793.00 1359.45 L794.00 1359.44 L795.00 1359.42 L796.00 1359.41 L797.00 1359.40 L798.00 1359.38 L799.00 1359.37 L800.00 1359.35 L801.00 1359.34 L802.00 1359.32 L803.00 1359.30 L804.00 1359.29 L805.00 1359.27 L806.00 1359.25 L807.00 1359.23 L808.00 1359.21 L809.00 1359.19 L810.00 1359.17 L811.00 1359.15 L812.00 1359.13 L813.00 1359.10 L814.00 1359.08 L815.00 1359.06 L816.00 1359.03 L817.00 1359.01 L818.00 1358.98 L819.00 1358.95 L820.00 1358.93 L821.00 1358.90 L822.00 1358.87 L823.00 1358.84 L824.00 1358.82 L825.00 1358.79 L826.00 1358.76 L827.00 1358.73 L828.00 1358.69 L829.00 1358.66 L830.00 1358.63 L831.00 1358.60 L832.00 1358.56 L833.00 1358.53 L834.00 1358.50 L835.00 1358.46 L836.00 1358.42 L837.00 1358.39 L838.00 1358.35 L839.00 1358.31 L840.00 1358.28 L841.00 1358.24 L842.00 1358.20 L843.00 1358.16 L844.00 1358.12 L845.00 1358.08 L846.00 1358.04 L847.00 1357.99 L848.00 1357.95 L849.00 1357.91 L850.00 1357.87 L851.00 1357.82 L852.00 1357.78 L853.00 1357.73 L854.00 1357.69 L855.00 1357.64 L856.00 1357.59 L857.00 1357.55 L858.00 1357.50 L859.00 1357.45 L860.00 1357.40 L861.00 1357.35 L862.00 1357.30 L863.00 1357.25 L864.00 1357.20 L865.00 1357.15 L866.00 1357.09 L867.00 1357.04 L868.00 1356.99 L869.00 1356.93 L870.00 1356.88 L871.00 1356.82 L872.00 1356.77 L873.00 1356.71 L874.00 1356.66 L875.00 1356.60 L876.00 1356.54 L877.00 1356.48 L878.00 1356.42 L879.00 1356.37 L880.00 1356.31 L881.00 1356.25 L882.00 1356.18 L883.00 1356.12 L884.00 1356.06 L885.00 1356.00 L886.00 1355.94 L887.00 1355.87 L888.00 1355.81 L889.00 1355.74 L890.00 1355.68 L891.00 1355.61 L892.00 1355.55 L893.00 1355.48 L894.00 1355.41 L895.00 1355.35 L896.00 1355.28 L897.00 1355.21 L898.00 1355.14 L899.00 1355.07 L900.00 1355.00 L901.00 1354.93 L902.00 1354.86 L903.00 1354.79 L904.00 1354.72 L905.00 1354.64 L906.00 1354.57 L907.00 1354.50 L908.00 1354.42 L909.00 1354.35 L910.00 1354.27 L911.00 1354.20 L912.00 1354.12 L913.00 1354.04 L914.00 1353.97 L915.00 1353.89 L916.00 1353.81 L917.00 1353.73 L918.00 1353.65 L919.00 1353.57 L920.00 1353.49 L921.00 1353.41 L922.00 1353.33 L923.00 1353.25 L924.00 1353.17 L925.00 1353.09 L926.00 1353.00 L927.00 1352.92 L928.00 1352.84 L929.00 1352.75 L930.00 1352.67 L931.00 1352.58 L932.00 1352.50 L933.00 1352.41 L934.00 1352.32 L935.00 1352.24 L936.00 1352.15 L937.00 1352.06 L938.00 1351.97 L939.00 1351.88 L940.00 1351.79 L941.00 1351.70 L942.00 1351.61 L943.00 1351.52 L944.00 1351.43 L945.00 1351.34 L946.00 1351.25 L947.00 1351.15 L948.00 1351.06 L949.00 1350.97 L950.00 1350.87 L951.00 1350.78 L952.00 1350.68 L953.00 1350.59 L954.00 1350.49 L955.00 1350.40 L956.00 1350.30 L957.00 1350.20 L958.00 1350.11 L959.00 1350.01 L960.00 1349.91 L961.00 1349.81 L962.00 1349.71 L963.00 1349.61 L964.00 1349.51 L965.00 1349.41 L966.00 1349.31 L967.00 1349.21 L968.00 1349.11 L969.00 1349.01 L970.00 1348.90 L971.00 1348.80 L972.00 1348.70 L973.00 1348.59 L974.00 1348.49 L975.00 1348.39 L976.00 1348.28 L977.00 1348.18 L978.00 1348.07 L979.00 1347.96 L980.00 1347.86 L981.00 1347.75 L982.00 1347.64 L983.00 1347.53 L984.00 1347.43 L985.00 1347.32 L986.00 1347.21 L987.00 1347.10 L988.00 1346.99 L989.00 1346.88 L990.00 1346.77 L991.00 1346.66 L992.00 1346.55 L993.00 1346.44 L994.00 1346.32 L995.00 1346.21 L996.00 1346.10 L997.00 1345.99 L998.00 1345.87 L999.00 1345.76 L1000.00 1345.65 L1001.00 1345.53 L1002.00 1345.42 L1003.00 1345.30 L1004.00 1345.19 L1005.00 1345.07 L1006.00 1344.95 L1007.00 1344.84 L1008.00 1344.72 L1009.00 1344.60 L1010.00 1344.48 L1011.00 1344.37 L1012.00 1344.25 L1013.00 1344.13 L1014.00 1344.01 L1015.00 1343.89 L1016.00 1343.77 L1017.00 1343.65 L1018.00 1343.53 L1019.00 1343.41 L1020.00 1343.29 L1021.00 1343.17 L1022.00 1343.05 L1023.00 1342.92 L1024.00 1342.80 L1025.00 1342.68 L1026.00 1342.56 L1027.00 1342.43 L1028.00 1342.31 L1029.00 1342.19 L1030.00 1342.06 L1031.00 1341.94 L1032.00 1341.81 L1033.00 1341.69 L1034.00 1341.56 L1035.00 1341.44 L1036.00 1341.31 L1037.00 1341.18 L1038.00 1341.06 L1039.00 1340.93 L1040.00 1340.80 L1041.00 1340.68 L1042.00 1340.55 L1043.00 1340.42 L1044.00 1340.29 L1045.00 1340.16 L1046.00 1340.03 L1047.00 1339.90 L1048.00 1339.78 L1049.00 1339.65 L1050.00 1339.52 L1051.00 1339.39 L1052.00 1339.25 L1053.00 1339.12 L1054.00 1338.99 L1055.00 1338.86 L1056.00 1338.73 L1057.00 1338.60 L1058.00 1338.47 L1059.00 1338.33 L1060.00 1338.20 L1061.00 1338.07 L1062.00 1337.93 L1063.00 1337.80 L1064.00 1337.67 L1065.00 1337.53 L1066.00 1337.40 L1067.00 1337.27 L1068.00 1337.13 L1069.00 1337.00 L1070.00 1336.86 L1071.00 1336.73 L1072.00 1336.59 L1073.00 1336.45 L1074.00 1336.32 L1075.00 1336.18 L1076.00 1336.05 L1077.00 1335.91 L1078.00 1335.77 L1079.00 1335.63 L1080.00 1335.50 L1081.00 1335.36 L1082.00 1335.22 L1083.00 1335.08 L1084.00 1334.95 L1085.00 1334.81 L1086.00 1334.67 L1087.00 1334.53 L1088.00 1334.39 L1089.00 1334.25 L1090.00 1334.11 L1091.00 1333.97 L1092.00 1333.83 L1093.00 1333.69 L1094.00 1333.55 L1095.00 1333.41 L1096.00 1333.27 L1097.00 1333.13 L1098.00 1332.99 L1099.00 1332.85 L1100.00 1332.71 L1101.00 1332.57 L1102.00 1332.43 L1103.00 1332.28 L1104.00 1332.14 L1105.00 1332.00 L1106.00 1331.86 L1107.00 1331.72 L1108.00 1331.57 L1109.00 1331.43 L1110.00 1331.29 L1111.00 1331.15 L1112.00 1331.00 L1113.00 1330.86 L1114.00 1330.72 L1115.00 1330.57 L1116.00 1330.43 L1117.00 1330.28 L1118.00 1330.14 L1119.00 1330.00 L1120.00 1329.85 L1121.00 1329.71 L1122.00 1329.56 L1123.00 1329.42 L1124.00 1329.27 L1125.00 1329.13 L1126.00 1328.98 L1127.00 1328.84 L1128.00 1328.69 L1129.00 1328.55 L1130.00 1328.40 L1131.00 1328.26 L1132.00 1328.11 L1133.00 1327.96 L1134.00 1327.82 L1135.00 1327.67 L1136.00 1327.53 L1137.00 1327.38 L1138.00 1327.23 L1139.00 1327.09 L1140.00 1326.94 L1141.00 1326.79 L1142.00 1326.65 L1143.00 1326.50 L1144.00 1326.35 L1145.00 1326.21 L1146.00 1326.06 L1147.00 1325.91 L1148.00 1325.76 L1149.00 1325.62 L1150.00 1325.47 L1151.00 1325.32 L1152.00 1325.17 L1153.00 1325.03 L1154.00 1324.88 L1155.00 1324.73 L1156.00 1324.58 L1157.00 1324.43 L1158.00 1324.29 L1159.00 1324.14 L1160.00 1323.99 L1161.00 1323.84 L1162.00 1323.69 L1163.00 1323.55 L1164.00 1323.40 L1165.00 1323.25 L1166.00 1323.10 L1167.00 1322.95 L1168.00 1322.80 L1169.00 1322.65 L1170.00 1322.51 L1171.00 1322.36 L1172.00 1322.21 L1173.00 1322.06 L1174.00 1321.91 L1175.00 1321.76 L1176.00 1321.61 L1177.00 1321.47 L1178.00 1321.32 L1179.00 1321.17 L1180.00 1321.02 L1181.00 1320.87 L1182.00 1320.72 L1183.00 1320.57 L1184.00 1320.42 L1185.00 1320.27 L1186.00 1320.13 L1187.00 1319.98 L1188.00 1319.83 L1189.00 1319.68 L1190.00 1319.53 L1191.00 1319.38 L1192.00 1319.23 L1193.00 1319.08 L1194.00 1318.93 L1195.00 1318.79 L1196.00 1318.64 L1197.00 1318.49 L1198.00 1318.34 L1199.00 1318.19 L1200.00 1318.04 L1201.00 1317.89 L1202.00 1317.74 L1203.00 1317.60 L1204.00 1317.45 L1205.00 1317.30 L1206.00 1317.15 L1207.00 1317.00 L1208.00 1316.85 L1209.00 1316.70 L1210.00 1316.56 L1211.00 1316.41 L1212.00 1316.26 L1213.00 1316.11 L1214.00 1315.96 L1215.00 1315.81 L1216.00 1315.67 L1217.00 1315.52 L1218.00 1315.37 L1219.00 1315.22 L1220.00 1315.07 L1221.00 1314.93 L1222.00 1314.78 L1223.00 1314.63 L1224.00 1314.48 L1225.00 1314.34 L1226.00 1314.19 L1227.00 1314.04 L1228.00 1313.89 L1229.00 1313.75 L1230.00 1313.60 L1231.00 1313.45 L1232.00 1313.31 L1233.00 1313.16 L1234.00 1313.01 L1235.00 1312.87 L1236.00 1312.72 L1237.00 1312.57 L1238.00 1312.43 L1239.00 1312.28 L1240.00 1312.13 L1241.00 1311.99 L1242.00 1311.84 L1243.00 1311.70 L1244.00 1311.55 L1245.00 1311.40 L1246.00 1311.26 L1247.00 1311.11 L1248.00 1310.97 L1249.00 1310.82 L1250.00 1310.68 L1251.00 1310.53 L1252.00 1310.39 L1253.00 1310.24 L1254.00 1310.10 L1255.00 1309.95 L1256.00 1309.81 L1257.00 1309.67 L1258.00 1309.52 L1259.00 1309.38 L1260.00 1309.23 L1261.00 1309.09 L1262.00 1308.95 L1263.00 1308.80 L1264.00 1308.66 L1265.00 1308.52 L1266.00 1308.37 L1267.00 1308.23 L1268.00 1308.09 L1269.00 1307.95 L1270.00 1307.80 L1271.00 1307.66 L1272.00 1307.52 L1273.00 1307.38 L1274.00 1307.24 L1275.00 1307.09 L1276.00 1306.95 L1277.00 1306.81 L1278.00 1306.67 L1279.00 1306.53 L1280.00 1306.39 L1281.00 1306.25 L1282.00 1306.11 L1283.00 1305.97 L1284.00 1305.83 L1285.00 1305.69 L1286.00 1305.55 L1287.00 1305.41 L1288.00 1305.27 L1289.00 1305.13 L1290.00 1304.99 L1291.00 1304.86 L1292.00 1304.72 L1293.00 1304.58 L1294.00 1304.44 L1295.00 1304.30 L1296.00 1304.17 L1297.00 1304.03 L1298.00 1303.89 L1299.00 1303.75 L1300.00 1303.62 L1301.00 1303.48 L1302.00 1303.34 L1303.00 1303.21 L1304.00 1303.07 L1305.00 1302.94 L1306.00 1302.80 L1307.00 1302.67 L1308.00 1302.53 L1309.00 1302.40 L1310.00 1302.26 L1311.00 1302.13 L1312.00 1301.99 L1313.00 1301.86 L1314.00 1301.73 L1315.00 1301.59 L1316.00 1301.46 L1317.00 1301.33 L1318.00 1301.20 L1319.00 1301.06 L1320.00 1300.93 L1321.00 1300.80 L1322.00 1300.67 L1323.00 1300.54 L1324.00 1300.41 L1325.00 1300.28 L1326.00 1300.14 L1327.00 1300.01 L1328.00 1299.88 L1329.00 1299.75 L1330.00 1299.63 L1331.00 1299.50 L1332.00 1299.37 L1333.00 1299.24 L1334.00 1299.11 L1335.00 1298.98 L1336.00 1298.85 L1337.00 1298.73 L1338.00 1298.60 L1339.00 1298.47 L1340.00 1298.35 L1341.00 1298.22 L1342.00 1298.09 L1343.00 1297.97 L1344.00 1297.84 L1345.00 1297.72 L1346.00 1297.59 L1347.00 1297.47 L1348.00 1297.34 L1349.00 1297.22 L1350.00 1297.10 L1351.00 1296.97 L1352.00 1296.85 L1353.00 1296.73 L1354.00 1296.60 L1355.00 1296.48 L1356.00 1296.36 L1357.00 1296.24 L1358.00 1296.12 L1359.00 1296.00 L1360.00 1295.88 L1361.00 1295.75 L1362.00 1295.63 L1363.00 1295.52 L1364.00 1295.40 L1365.00 1295.28 L1366.00 1295.16 L1367.00 1295.04 L1368.00 1294.92 L1369.00 1294.80 L1370.00 1294.69 L1371.00 1294.57 L1372.00 1294.45 L1373.00 1294.34 L1374.00 1294.22 L1375.00 1294.11 L1376.00 1293.99 L1377.00 1293.87 L1378.00 1293.76 L1379.00 1293.65 L1380.00 1293.53 L1381.00 1293.42 L1382.00 1293.31 L1383.00 1293.19 L1384.00 1293.08 L1385.00 1292.97 L1386.00 1292.86 L1387.00 1292.74 L1388.00 1292.63 L1389.00 1292.52 L1390.00 1292.41 L1391.00 1292.30 L1392.00 1292.19 L1393.00 1292.08 L1394.00 1291.97 L1395.00 1291.87 L1396.00 1291.76 L1397.00 1291.65 L1398.00 1291.54 L1399.00 1291.44 L1400.00 1291.33 L1401.00 1291.22 L1402.00 1291.12 L1403.00 1291.01 L1404.00 1290.91 L1405.00 1290.80 L1406.00 1290.70 L1407.00 1290.59 L1408.00 1290.49 L1409.00 1290.39 L1410.00 1290.28 L1411.00 1290.18 L1412.00 1290.08 L1413.00 1289.98 L1414.00 1289.88 L1415.00 1289.78 L1416.00 1289.68 L1417.00 1289.58 L1418.00 1289.48 L1419.00 1289.38 L1420.00 1289.28 L1421.00 1289.18 L1422.00 1289.08 L1423.00 1288.99 L1424.00 1288.89 L1425.00 1288.79 L1426.00 1288.70 L1427.00 1288.60 L1428.00 1288.51 L1429.00 1288.41 L1430.00 1288.32 L1431.00 1288.22 L1432.00 1288.13 L1433.00 1288.04 L1434.00 1287.94 L1435.00 1287.85 L1436.00 1287.76 L1437.00 1287.67 L1438.00 1287.58 L1439.00 1287.49 L1440.00 1287.40 L1441.00 1287.31 L1442.00 1287.22 L1443.00 1287.13 L1444.00 1287.04 L1445.00 1286.95 L1446.00 1286.86 L1447.00 1286.78 L1448.00 1286.69 L1449.00 1286.60 L1450.00 1286.52 L1451.00 1286.43 L1452.00 1286.35 L1453.00 1286.26 L1454.00 1286.18 L1455.00 1286.10 L1456.00 1286.01 L1457.00 1285.93 L1458.00 1285.85 L1459.00 1285.77 L1460.00 1285.69 L1461.00 1285.61 L1462.00 1285.53 L1463.00 1285.45 L1464.00 1285.37 L1465.00 1285.29 L1466.00 1285.21 L1467.00 1285.13 L1468.00 1285.05 L1469.00 1284.98 L1470.00 1284.90 L1471.00 1284.82 L1472.00 1284.75 L1473.00 1284.67 L1474.00 1284.60 L1475.00 1284.53 L1476.00 1284.45 L1477.00 1284.38 L1478.00 1284.31 L1479.00 1284.23 L1480.00 1284.16 L1481.00 1284.09 L1482.00 1284.02 L1483.00 1283.95 L1484.00 1283.88 L1485.00 1283.81 L1486.00 1283.74 L1487.00 1283.67 L1488.00 1283.61 L1489.00 1283.54 L1490.00 1283.47 L1491.00 1283.41 L1492.00 1283.34 L1493.00 1283.28 L1494.00 1283.21 L1495.00 1283.15 L1496.00 1283.08 L1497.00 1283.02 L1498.00 1282.96 L1499.00 1282.90 L1500.00 1282.83 L1501.00 1282.77 L1502.00 1282.71 L1503.00 1282.65 L1504.00 1282.59 L1505.00 1282.53 L1506.00 1282.47 L1507.00 1282.42 L1508.00 1282.36 L1509.00 1282.30 L1510.00 1282.24 L1511.00 1282.19 L1512.00 1282.13 L1513.00 1282.08 L1514.00 1282.02 L1515.00 1281.97 L1516.00 1281.92 L1517.00 1281.86 L1518.00 1281.81 L1519.00 1281.76 L1520.00 1281.71 L1521.00 1281.66 L1522.00 1281.61 L1523.00 1281.56 L1524.00 1281.51 L1525.00 1281.46 L1526.00 1281.41 L1527.00 1281.36 L1528.00 1281.32 L1529.00 1281.27 L1530.00 1281.22 L1531.00 1281.18 L1532.00 1281.13 L1533.00 1281.09 L1534.00 1281.04 L1535.00 1281.00 L1536.00 1280.96 L1537.00 1280.92 L1538.00 1280.87 L1539.00 1280.83 L1540.00 1280.79 L1541.00 1280.75 L1542.00 1280.71 L1543.00 1280.67 L1544.00 1280.63 L1545.00 1280.60 L1546.00 1280.56 L1547.00 1280.52 L1548.00 1280.49 L1549.00 1280.45 L1550.00 1280.41 L1551.00 1280.38 L1552.00 1280.34 L1553.00 1280.31 L1554.00 1280.28 L1555.00 1280.25 L1556.00 1280.21 L1557.00 1280.18 L1558.00 1280.15 L1559.00 1280.12 L1560.00 1280.09 L1561.00 1280.06 L1562.00 1280.03 L1563.00 1280.01 L1564.00 1279.98 L1565.00 1279.95 L1566.00 1279.92 L1567.00 1279.90 L1568.00 1279.87 L1569.00 1279.85 L1570.00 1279.82 L1571.00 1279.80 L1572.00 1279.78 L1573.00 1279.75 L1574.00 1279.73 L1575.00 1279.71 L1576.00 1279.69 L1577.00 1279.67 L1578.00 1279.65 L1579.00 1279.63 L1580.00 1279.61 L1581.00 1279.59 L1582.00 1279.58 L1583.00 1279.56 L1584.00 1279.54 L1585.00 1279.53 L1586.00 1279.51 L1587.00 1279.50 L1588.00 1279.48 L1589.00 1279.47 L1590.00 1279.46 L1591.00 1279.44 L1592.00 1279.43 L1593.00 1279.42 L1594.00 1279.41 L1595.00 1279.40 L1596.00 1279.39 L1597.00 1279.38 L1598.00 1279.37 L1599.00 1279.36 L1600.00 1279.36 L1601.00 1279.35 L1602.00 1279.34 L1603.00 1279.34 L1604.00 1279.33 L1605.00 1279.33 L1606.00 1279.32 L1607.00 1279.32 L1608.00 1279.32 L1609.00 1279.31 L1610.00 1279.31 L1611.00 1279.31 L1612.00 1279.31 L1613.00 1279.31 L1614.00 1279.31 L1615.00 1279.31 L1616.00 1279.31 L1617.00 1279.32 L1618.00 1279.32 L1619.00 1279.32 L1620.00 1279.33 L1621.00 1279.33 L1622.00 1279.34 L1623.00 1279.34 L1624.00 1279.35 L1625.00 1279.35 L1626.00 1279.36 L1627.00 1279.37 L1628.00 1279.38 L1629.00 1279.39 L1630.00 1279.40 L1631.00 1279.41 L1632.00 1279.42 L1633.00 1279.43 L1634.00 1279.44 L1635.00 1279.45 L1636.00 1279.47 L1637.00 1279.48 L1638.00 1279.49 L1639.00 1279.51 L1640.00 1279.52 L1641.00 1279.54 L1642.00 1279.56 L1643.00 1279.57 L1644.00 1279.59 L1645.00 1279.61 L1646.00 1279.63 L1647.00 1279.65 L1648.00 1279.67 L1649.00 1279.69 L1650.00 1279.71 L1651.00 1279.73 L1652.00 1279.75 L1653.00 1279.77 L1654.00 1279.80 L1655.00 1279.82 L1656.00 1279.85 L1657.00 1279.87 L1658.00 1279.90 L1659.00 1279.92 L1660.00 1279.95 L1661.00 1279.97 L1662.00 1280.00 L1663.00 1280.03 L1664.00 1280.06 L1665.00 1280.09 L1666.00 1280.12 L1667.00 1280.15 L1668.00 1280.18 L1669.00 1280.21 L1670.00 1280.24 L1671.00 1280.28 L1672.00 1280.31 L1673.00 1280.34 L1674.00 1280.38 L1675.00 1280.41 L1676.00 1280.45 L1677.00 1280.48 L1678.00 1280.52 L1679.00 1280.56 L1680.00 1280.60 L1681.00 1280.63 L1682.00 1280.67 L1683.00 1280.71 L1684.00 1280.75 L1685.00 1280.79 L1686.00 1280.83 L1687.00 1280.87 L1688.00 1280.92 L1689.00 1280.96 L1690.00 1281.00 L1691.00 1281.05 L1692.00 1281.09 L1693.00 1281.14 L1694.00 1281.18 L1695.00 1281.23 L1696.00 1281.27 L1697.00 1281.32 L1698.00 1281.37 L1699.00 1281.42 L1700.00 1281.46 L1701.00 1281.51 L1702.00 1281.56 L1703.00 1281.61 L1704.00 1281.66 L1705.00 1281.72 L1706.00 1281.77 L1707.00 1281.82 L1708.00 1281.87 L1709.00 1281.93 L1710.00 1281.98 L1711.00 1282.03 L1712.00 1282.09 L1713.00 1282.14 L1714.00 1282.20 L1715.00 1282.26 L1716.00 1282.31 L1717.00 1282.37 L1718.00 1282.43 L1719.00 1282.49 L1720.00 1282.55 L1721.00 1282.61 L1722.00 1282.67 L1723.00 1282.73 L1724.00 1282.79 L1725.00 1282.85 L1726.00 1282.92 L1727.00 1282.98 L1728.00 1283.04 L1729.00 1283.11 L1730.00 1283.17 L1731.00 1283.23 L1732.00 1283.30 L1733.00 1283.37 L1734.00 1283.43 L1735.00 1283.50 L1736.00 1283.57 L1737.00 1283.64 L1738.00 1283.70 L1739.00 1283.77 L1740.00 1283.84 L1741.00 1283.91 L1742.00 1283.98 L1743.00 1284.05 L1744.00 1284.13 L1745.00 1284.20 L1746.00 1284.27 L1747.00 1284.34 L1748.00 1284.42 L1749.00 1284.49 L1750.00 1284.57 L1751.00 1284.64 L1752.00 1284.72 L1753.00 1284.79 L1754.00 1284.87 L1755.00 1284.95 L1756.00 1285.02 L1757.00 1285.10 L1758.00 1285.18 L1759.00 1285.26 L1760.00 1285.34 L1761.00 1285.42 L1762.00 1285.50 L1763.00 1285.58 L1764.00 1285.66 L1765.00 1285.74 L1766.00 1285.83 L1767.00 1285.91 L1768.00 1285.99 L1769.00 1286.08 L1770.00 1286.16 L1771.00 1286.25 L1772.00 1286.33 L1773.00 1286.42 L1774.00 1286.50 L1775.00 1286.59 L1776.00 1286.68 L1777.00 1286.76 L1778.00 1286.85 L1779.00 1286.94 L1780.00 1287.03 L1781.00 1287.12 L1782.00 1287.21 L1783.00 1287.30 L1784.00 1287.39 L1785.00 1287.48 L1786.00 1287.57 L1787.00 1287.66 L1788.00 1287.76 L1789.00 1287.85 L1790.00 1287.94 L1791.00 1288.04 L1792.00 1288.13 L1793.00 1288.23 L1794.00 1288.32 L1795.00 1288.42 L1796.00 1288.51 L1797.00 1288.61 L1798.00 1288.71 L1799.00 1288.80 L1800.00 1288.90 L1801.00 1289.00 L1802.00 1289.10 L1803.00 1289.20 L1804.00 1289.30 L1805.00 1289.40 L1806.00 1289.50 L1807.00 1289.60 L1808.00 1289.70 L1809.00 1289.80 L1810.00 1289.90 L1811.00 1290.01 L1812.00 1290.11 L1813.00 1290.21 L1814.00 1290.32 L1815.00 1290.42 L1816.00 1290.53 L1817.00 1290.63 L1818.00 1290.74 L1819.00 1290.84 L1820.00 1290.95 L1821.00 1291.06 L1822.00 1291.16 L1823.00 1291.27 L1824.00 1291.38 L1825.00 1291.49 L1826.00 1291.59 L1827.00 1291.70 L1828.00 1291.81 L1829.00 1291.92 L1830.00 1292.03 L1831.00 1292.14 L1832.00 1292.25 L1833.00 1292.37 L1834.00 1292.48 L1835.00 1292.59 L1836.00 1292.70 L1837.00 1292.81 L1838.00 1292.93 L1839.00 1293.04 L1840.00 1293.16 L1841.00 1293.27 L1842.00 1293.38 L1843.00 1293.50 L1844.00 1293.62 L1845.00 1293.73 L1846.00 1293.85 L1847.00 1293.96 L1848.00 1294.08 L1849.00 1294.20 L1850.00 1294.32 L1851.00 1294.43 L1852.00 1294.55 L1853.00 1294.67 L1854.00 1294.79 L1855.00 1294.91 L1856.00 1295.03 L1857.00 1295.15 L1858.00 1295.27 L1859.00 1295.39 L1860.00 1295.51 L1861.00 1295.63 L1862.00 1295.75 L1863.00 1295.88 L1864.00 1296.00 L1865.00 1296.12 L1866.00 1296.24 L1867.00 1296.37 L1868.00 1296.49 L1869.00 1296.61 L1870.00 1296.74 L1871.00 1296.86 L1872.00 1296.99 L1873.00 1297.11 L1874.00 1297.24 L1875.00 1297.37 L1876.00 1297.49 L1877.00 1297.62 L1878.00 1297.75 L1879.00 1297.87 L1880.00 1298.00 L1881.00 1298.13 L1882.00 1298.26 L1883.00 1298.38 L1884.00 1298.51 L1885.00 1298.64 L1886.00 1298.77 L1887.00 1298.90 L1888.00 1299.03 L1889.00 1299.16 L1890.00 1299.29 L1891.00 1299.42 L1892.00 1299.55 L1893.00 1299.68 L1894.00 1299.81 L1895.00 1299.95 L1896.00 1300.08 L1897.00 1300.21 L1898.00 1300.34 L1899.00 1300.48 L1900.00 1300.61 L1901.00 1300.74 L1902.00 1300.88 L1903.00 1301.01 L1904.00 1301.14 L1905.00 1301.28 L1906.00 1301.41 L1907.00 1301.55 L1908.00 1301.68 L1909.00 1301.82" fill="none" stroke="#000" stroke-width="4" stroke-dasharray="22.8 10.5333" stroke-dashoffset="0.3"/>
<text class="an" transform="translate(231.5 1513.9) scale(1 1.025)" text-anchor="end"><tspan dy="4.2">−</tspan><tspan dy="-4.2">10</tspan></text>
<text class="an" transform="translate(231.5 1453.9) scale(1 1.025)" text-anchor="end"><tspan dy="4.2">−</tspan><tspan dy="-4.2">9</tspan></text>
<text class="an" transform="translate(231.5 1393.9) scale(1 1.025)" text-anchor="end"><tspan dy="4.2">−</tspan><tspan dy="-4.2">8</tspan></text>
<text class="an" transform="translate(231.5 1333.9) scale(1 1.025)" text-anchor="end"><tspan dy="4.2">−</tspan><tspan dy="-4.2">7</tspan></text>
<text class="an" transform="translate(231.5 1273.9) scale(1 1.025)" text-anchor="end"><tspan dy="4.2">−</tspan><tspan dy="-4.2">6</tspan></text>
<text class="an" transform="translate(231.5 1213.9) scale(1 1.025)" text-anchor="end"><tspan dy="4.2">−</tspan><tspan dy="-4.2">5</tspan></text>
<text class="an" transform="translate(231.5 1153.9) scale(1 1.025)" text-anchor="end"><tspan dy="4.2">−</tspan><tspan dy="-4.2">4</tspan></text>
<text class="an" transform="translate(231.5 1093.9) scale(1 1.025)" text-anchor="end"><tspan dy="4.2">−</tspan><tspan dy="-4.2">3</tspan></text>
<text class="an" transform="translate(231.5 1033.9) scale(1 1.025)" text-anchor="end"><tspan dy="4.2">−</tspan><tspan dy="-4.2">2</tspan></text>
<text class="an" transform="translate(231.5 973.9) scale(1 1.025)" text-anchor="end"><tspan dy="4.2">−</tspan><tspan dy="-4.2">1</tspan></text>
<text class="an" transform="translate(231.5 913.9) scale(1 1.025)" text-anchor="end">0</text>
<text class="an" transform="translate(231.5 853.9) scale(1 1.025)" text-anchor="end">1</text>
<text class="an" transform="translate(231.5 793.9) scale(1 1.025)" text-anchor="end">2</text>
<text class="an" transform="translate(231.5 733.9) scale(1 1.025)" text-anchor="end">3</text>
<text class="an" transform="translate(231.5 673.9) scale(1 1.025)" text-anchor="end">4</text>
<text class="an" transform="translate(231.5 613.9) scale(1 1.025)" text-anchor="end">5</text>
<text class="an" transform="translate(231.5 553.9) scale(1 1.025)" text-anchor="end">6</text>
<text class="an" transform="translate(231.5 493.9) scale(1 1.025)" text-anchor="end">7</text>
<text class="an" transform="translate(231.5 433.9) scale(1 1.025)" text-anchor="end">8</text>
<text class="an" transform="translate(231.5 373.9) scale(1 1.025)" text-anchor="end">9</text>
<text class="an" transform="translate(231.5 313.9) scale(1 1.025)" text-anchor="end">10</text>
<text class="an" transform="translate(240.0 1536) scale(1 1.025)" text-anchor="middle">0</text>
<text class="an" transform="translate(382.86 1536) scale(1 1.025)" text-anchor="middle">600</text>
<text class="an" transform="translate(525.71 1536) scale(1 1.025)" text-anchor="middle">1200</text>
<text class="an" transform="translate(668.57 1536) scale(1 1.025)" text-anchor="middle">1800</text>
<text class="an" transform="translate(811.43 1536) scale(1 1.025)" text-anchor="middle">2400</text>
<text class="an" transform="translate(954.29 1536) scale(1 1.025)" text-anchor="middle">3000</text>
<text class="an" transform="translate(1097.14 1536) scale(1 1.025)" text-anchor="middle">3600</text>
<text class="an" transform="translate(1240.0 1536) scale(1 1.025)" text-anchor="middle">4200</text>
<text class="an" transform="translate(1382.86 1536) scale(1 1.025)" text-anchor="middle">4800</text>
<text class="an" transform="translate(1525.71 1536) scale(1 1.025)" text-anchor="middle">5400</text>
<text class="an" transform="translate(1668.57 1536) scale(1 1.025)" text-anchor="middle">6000</text>
<text class="an" transform="translate(1811.43 1536) scale(1 1.025)" text-anchor="middle">6600</text>
<text class="an" transform="translate(1991.5 513.9) scale(1 1.025)" text-anchor="end">0</text>
<text class="an" transform="translate(1991.5 398.43) scale(1 1.025)" text-anchor="end">30</text>
<text class="an" transform="translate(1991.5 350.6) scale(1 1.025)" text-anchor="end">60</text>
<text class="an" transform="translate(1991.5 313.9) scale(1 1.025)" text-anchor="end">90</text>
<text class="an" transform="translate(2013.5 1513.9) scale(1 1.025)" text-anchor="end">0</text>
<text class="an" transform="translate(2013.5 1413.9) scale(1 1.025)" text-anchor="end">50</text>
<text class="an" transform="translate(2013.5 1313.9) scale(1 1.025)" text-anchor="end">100</text>
<text class="an" transform="translate(2013.5 1213.9) scale(1 1.025)" text-anchor="end">150</text>
<text class="an" transform="translate(2013.5 1113.9) scale(1 1.025)" text-anchor="end">200</text>
<text class="an" transform="translate(144 900) rotate(-90) scale(1 1.03)" text-anchor="middle">Lunar topo (km)</text>
<text class="an" transform="translate(2042.1 400) rotate(-90) scale(1 1.02)" text-anchor="middle">off-nadir</text>
<text class="an" transform="translate(2064.6 1299.5) rotate(-90) scale(1 1.04)" text-anchor="middle">LRO Ht (km)</text>
<text class="an" transform="translate(1090 1587.1) scale(1 1.01)" text-anchor="middle">seconds after start time</text>
<text class="note" transform="translate(1950.5 1610) scale(1 1.0)" text-anchor="end">vertical lines are the terminator locations</text>
</svg></body></html>
